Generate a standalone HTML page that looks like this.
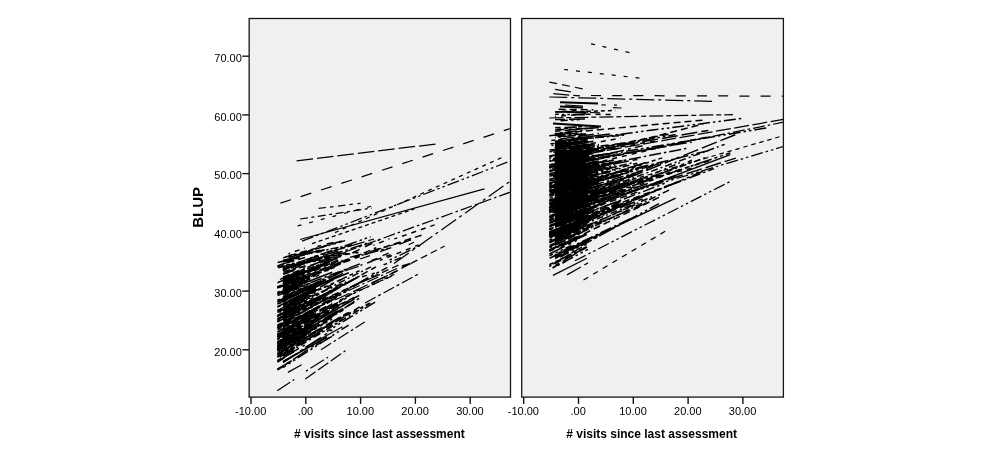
<!DOCTYPE html>
<html><head><meta charset="utf-8"><title>BLUP</title>
<style>html,body{margin:0;padding:0;background:#fff}svg{display:block;filter:grayscale(1)}text{font-family:"Liberation Sans",sans-serif;fill:#000}</style></head><body>
<svg width="1000" height="451" viewBox="0 0 1000 451">
<rect x="0" y="0" width="1000" height="451" fill="#fff"/>
<rect x="249.15" y="18.5" width="261.35" height="378.6" fill="#f0f0f0"/>
<rect x="521.7" y="18.5" width="261.70" height="378.6" fill="#f0f0f0"/>
<defs><clipPath id="cl"><rect x="249.15" y="18.5" width="261.4" height="378.6"/></clipPath><clipPath id="cr"><rect x="521.7" y="18.5" width="261.7" height="378.6"/></clipPath></defs>
<g clip-path="url(#cl)" stroke="#000" stroke-width="1.25" fill="none" stroke-linecap="butt">
<path d="M283.0 296.6L294.0 292.1" stroke-dasharray="7 4" stroke-dashoffset="2.6" stroke-width="1.5"/>
<path d="M282.9 274.1L293.8 270.5" stroke-dasharray="16 4" stroke-dashoffset="1.5" stroke-width="1.5"/>
<path d="M283.2 287.2L338.0 261.6" stroke-dasharray="7 4" stroke-dashoffset="3.5" stroke-width="1.5"/>
<path d="M277.4 282.7L304.8 271.4" stroke-dasharray="16 4" stroke-dashoffset="6.9" stroke-width="1.5"/>
<path d="M277.6 286.6L294.0 278.9" stroke-dasharray="5 5" stroke-dashoffset="3.8" stroke-width="1.5"/>
<path d="M282.9 319.6L332.2 292.0" stroke-dasharray="4 3" stroke-dashoffset="1.0" stroke-width="1.5"/>
<path d="M282.9 294.0L299.4 285.5" stroke-dasharray="7 4" stroke-dashoffset="9.1" stroke-width="1.5"/>
<path d="M282.8 281.4L304.7 273.2" stroke-dasharray="16 4" stroke-dashoffset="9.5" stroke-width="1.5"/>
<path d="M277.4 343.7L288.4 336.5" stroke-dasharray="12 3 2.5 3" stroke-dashoffset="5.7" stroke-width="1.5"/>
<path d="M277.6 329.7L332.4 299.6" stroke-dasharray="7 3 2 3" stroke-dashoffset="3.4" stroke-width="1.5"/>
<path d="M282.8 301.8L293.7 296.2" stroke-dasharray="5 5" stroke-dashoffset="3.4" stroke-width="1.5"/>
<path d="M277.7 336.3L288.6 330.2" stroke-dasharray="18 4 3 4" stroke-dashoffset="6.6" stroke-width="1.5"/>
<path d="M288.6 343.0L316.0 326.8" stroke-dasharray="4 3" stroke-dashoffset="1.8" stroke-width="1.5"/>
<path d="M282.9 283.6L299.3 277.7" stroke-dasharray="12 3 2.5 3" stroke-dashoffset="3.4" stroke-width="1.5"/>
<path d="M283.0 280.6L332.3 260.8" stroke-dasharray="16 3 3 3 3 3" stroke-dashoffset="8.1" stroke-width="1.5"/>
<path d="M299.4 263.6L315.8 258.7" stroke-dasharray="18 4 3 4" stroke-dashoffset="0.7" stroke-width="1.5"/>
<path d="M282.8 270.7L293.8 267.0" stroke-dasharray="16 4" stroke-dashoffset="11.4" stroke-width="1.5"/>
<path d="M277.4 325.2L299.3 313.6" stroke-dasharray="12 3 2.5 3 2.5 3" stroke-dashoffset="7.2" stroke-width="1.5"/>
<path d="M277.5 312.5L288.5 307.5" stroke-dasharray="8 6" stroke-dashoffset="4.1" stroke-width="1.5"/>
<path d="M288.3 288.7L310.2 278.9" stroke-dasharray="7 4" stroke-dashoffset="4.3" stroke-width="1.5"/>
<path d="M299.6 320.8L316.1 312.4" stroke-dasharray="7 4" stroke-dashoffset="4.3" stroke-width="1.5"/>
<path d="M283.0 287.1L299.4 279.3" stroke-dasharray="5 5" stroke-dashoffset="11.8" stroke-width="1.5"/>
<path d="M288.6 340.3L305.0 330.8" stroke-dashoffset="11.9" stroke-width="1.5"/>
<path d="M282.9 337.9L321.2 314.8" stroke-dasharray="5 5" stroke-dashoffset="11.2" stroke-width="1.5"/>
<path d="M315.7 345.5L332.1 336.3" stroke-dasharray="16 4" stroke-dashoffset="10.1" stroke-width="1.5"/>
<path d="M283.1 310.3L305.0 299.8" stroke-dasharray="18 4 3 4" stroke-dashoffset="9.4" stroke-width="1.5"/>
<path d="M282.9 334.5L337.7 304.2" stroke-dasharray="18 4 3 4" stroke-dashoffset="5.6" stroke-width="1.5"/>
<path d="M277.4 336.9L332.2 304.0" stroke-dasharray="16 4" stroke-dashoffset="10.9" stroke-width="1.5"/>
<path d="M277.6 342.5L294.1 334.2" stroke-dasharray="7 4" stroke-dashoffset="0.3" stroke-width="1.5"/>
<path d="M282.8 338.8L315.7 319.8" stroke-dasharray="4 3" stroke-dashoffset="9.9" stroke-width="1.5"/>
<path d="M282.9 286.5L299.3 279.6" stroke-dasharray="7 4" stroke-dashoffset="0.7" stroke-width="1.5"/>
<path d="M299.6 325.5L359.8 295.2" stroke-dasharray="7 4" stroke-dashoffset="6.3" stroke-width="1.5"/>
<path d="M282.9 261.1L299.3 258.1" stroke-dasharray="8 6" stroke-dashoffset="1.4" stroke-width="1.5"/>
<path d="M283.0 269.7L304.9 262.6" stroke-dasharray="7 4" stroke-dashoffset="0.7" stroke-width="1.5"/>
<path d="M277.3 287.0L304.7 275.4" stroke-dasharray="12 3 2.5 3 2.5 3" stroke-dashoffset="7.4" stroke-width="1.5"/>
<path d="M283.1 312.5L299.5 304.1" stroke-dasharray="7 3 2 3" stroke-dashoffset="6.1" stroke-width="1.5"/>
<path d="M283.1 290.1L310.5 280.7" stroke-dasharray="7 3 2 3" stroke-dashoffset="1.6" stroke-width="1.5"/>
<path d="M282.8 278.4L293.8 273.7" stroke-dasharray="16 3 3 3 3 3" stroke-dashoffset="3.6" stroke-width="1.5"/>
<path d="M288.6 276.1L299.6 271.7" stroke-dasharray="7 3 2 3" stroke-dashoffset="2.6" stroke-width="1.5"/>
<path d="M277.5 358.4L359.7 306.8" stroke-dasharray="7 4" stroke-dashoffset="8.5" stroke-width="1.5"/>
<path d="M277.5 369.5L293.9 359.3" stroke-dasharray="7 3 2 3" stroke-dashoffset="5.3" stroke-width="1.5"/>
<path d="M283.0 260.5L294.0 257.8" stroke-dasharray="5 5" stroke-dashoffset="2.7" stroke-width="1.5"/>
<path d="M277.4 349.0L326.7 321.4" stroke-dasharray="16 3 3 3 3 3" stroke-dashoffset="9.8" stroke-width="1.5"/>
<path d="M283.1 290.4L305.1 280.4" stroke-dasharray="16 4" stroke-dashoffset="3.3" stroke-width="1.5"/>
<path d="M277.7 341.9L288.6 335.6" stroke-dasharray="16 4" stroke-dashoffset="10.3" stroke-width="1.5"/>
<path d="M299.2 265.3L370.5 242.2" stroke-dasharray="12 3 2.5 3" stroke-dashoffset="7.5" stroke-width="1.5"/>
<path d="M283.2 266.6L305.1 260.7" stroke-dasharray="16 3 3 3 3 3" stroke-dashoffset="3.7" stroke-width="1.5"/>
<path d="M277.5 338.3L293.9 328.9" stroke-dashoffset="11.9" stroke-width="1.5"/>
<path d="M277.5 267.0L293.9 263.0" stroke-dasharray="16 3 3 3 3 3" stroke-dashoffset="9.8" stroke-width="1.5"/>
<path d="M283.1 305.9L299.6 297.6" stroke-dasharray="8 6" stroke-dashoffset="2.6" stroke-width="1.5"/>
<path d="M283.1 288.0L376.3 247.7" stroke-dasharray="7 4" stroke-dashoffset="0.2" stroke-width="1.5"/>
<path d="M299.3 313.9L326.7 298.3" stroke-dasharray="7 4" stroke-dashoffset="8.0" stroke-width="1.5"/>
<path d="M282.9 292.6L293.9 287.4" stroke-dasharray="12 3 2.5 3 2.5 3" stroke-dashoffset="11.7" stroke-width="1.5"/>
<path d="M277.7 319.0L294.1 310.5" stroke-dashoffset="4.0" stroke-width="1.5"/>
<path d="M283.0 273.6L305.0 265.9" stroke-dasharray="7 4" stroke-dashoffset="4.8" stroke-width="1.5"/>
<path d="M277.4 267.9L293.9 264.2" stroke-dasharray="7 4" stroke-dashoffset="10.2" stroke-width="1.5"/>
<path d="M299.5 274.7L316.0 268.0" stroke-dasharray="7 4" stroke-dashoffset="0.5" stroke-width="1.5"/>
<path d="M299.5 331.4L332.4 310.7" stroke-dasharray="7 4" stroke-dashoffset="9.0" stroke-width="1.5"/>
<path d="M288.3 315.0L343.1 284.2" stroke-dasharray="16 3 3 3 3 3" stroke-dashoffset="2.8" stroke-width="1.5"/>
<path d="M277.4 266.0L299.4 258.0" stroke-dasharray="7 4" stroke-dashoffset="0.6" stroke-width="1.5"/>
<path d="M282.9 260.6L304.8 254.8" stroke-dasharray="7 4" stroke-dashoffset="1.1" stroke-width="1.5"/>
<path d="M283.0 314.6L332.3 291.4" stroke-dasharray="4 3" stroke-dashoffset="8.8" stroke-width="1.5"/>
<path d="M283.2 285.6L305.1 275.4" stroke-dasharray="5 5" stroke-dashoffset="0.6" stroke-width="1.5"/>
<path d="M277.5 326.8L299.5 315.0" stroke-dasharray="8 6" stroke-dashoffset="3.7" stroke-width="1.5"/>
<path d="M277.3 321.1L321.2 297.5" stroke-dasharray="12 3 2.5 3" stroke-dashoffset="8.5" stroke-width="1.5"/>
<path d="M283.1 293.3L359.8 263.9" stroke-dasharray="12 3 2.5 3" stroke-dashoffset="11.7" stroke-width="1.5"/>
<path d="M277.5 356.0L288.4 350.0" stroke-dasharray="4 3" stroke-dashoffset="11.0" stroke-width="1.5"/>
<path d="M277.3 355.2L310.2 332.3" stroke-dasharray="12 3 2.5 3 2.5 3" stroke-dashoffset="1.6" stroke-width="1.5"/>
<path d="M283.1 340.5L354.4 299.0" stroke-dashoffset="1.9" stroke-width="1.5"/>
<path d="M282.9 354.6L321.3 330.7" stroke-dasharray="18 4 3 4" stroke-dashoffset="3.8" stroke-width="1.5"/>
<path d="M277.6 345.6L354.3 302.3" stroke-dasharray="8 6" stroke-dashoffset="3.5" stroke-width="1.5"/>
<path d="M283.2 300.5L321.5 281.3" stroke-dasharray="18 4 3 4" stroke-dashoffset="9.1" stroke-width="1.5"/>
<path d="M277.3 347.0L304.7 330.2" stroke-dasharray="18 4 3 4" stroke-dashoffset="6.1" stroke-width="1.5"/>
<path d="M283.2 284.1L327.0 263.7" stroke-dasharray="16 3 3 3 3 3" stroke-dashoffset="4.8" stroke-width="1.5"/>
<path d="M282.9 346.2L304.8 335.5" stroke-dasharray="7 4" stroke-dashoffset="7.7" stroke-width="1.5"/>
<path d="M277.7 295.5L294.1 288.9" stroke-dasharray="12 3 2.5 3 2.5 3" stroke-dashoffset="3.4" stroke-width="1.5"/>
<path d="M283.0 290.2L305.0 279.9" stroke-dasharray="16 4" stroke-dashoffset="2.0" stroke-width="1.5"/>
<path d="M283.1 282.1L294.1 277.9" stroke-dasharray="12 3 2.5 3 2.5 3" stroke-dashoffset="12.0" stroke-width="1.5"/>
<path d="M277.4 310.4L288.3 305.3" stroke-dasharray="12 3 2.5 3" stroke-dashoffset="9.7" stroke-width="1.5"/>
<path d="M277.6 287.9L299.6 279.2" stroke-dasharray="4 3" stroke-dashoffset="4.5" stroke-width="1.5"/>
<path d="M277.4 300.3L299.3 290.5" stroke-dasharray="4 3" stroke-dashoffset="1.1" stroke-width="1.5"/>
<path d="M277.6 350.7L294.0 341.0" stroke-dashoffset="1.5" stroke-width="1.5"/>
<path d="M288.6 303.2L316.0 291.0" stroke-dasharray="7 4" stroke-dashoffset="10.3" stroke-width="1.5"/>
<path d="M277.3 361.5L293.8 351.5" stroke-dasharray="16 3 3 3 3 3" stroke-dashoffset="1.3" stroke-width="1.5"/>
<path d="M283.1 341.1L310.5 325.8" stroke-dasharray="7 4" stroke-dashoffset="2.8" stroke-width="1.5"/>
<path d="M282.9 350.2L293.9 343.7" stroke-dasharray="16 3 3 3 3 3" stroke-dashoffset="5.2" stroke-width="1.5"/>
<path d="M277.4 338.8L299.3 327.0" stroke-dashoffset="0.1" stroke-width="1.5"/>
<path d="M283.2 294.3L305.1 284.0" stroke-dasharray="7 3 2 3" stroke-dashoffset="6.3" stroke-width="1.5"/>
<path d="M277.5 319.1L304.9 304.5" stroke-dasharray="16 3 3 3 3 3" stroke-dashoffset="5.0" stroke-width="1.5"/>
<path d="M283.2 290.3L294.1 285.4" stroke-dasharray="12 3 2.5 3 2.5 3" stroke-dashoffset="8.6" stroke-width="1.5"/>
<path d="M282.8 299.8L299.2 291.6" stroke-dasharray="4 3" stroke-dashoffset="3.7" stroke-width="1.5"/>
<path d="M277.4 343.9L315.7 325.1" stroke-dasharray="16 4" stroke-dashoffset="5.9" stroke-width="1.5"/>
<path d="M282.9 284.0L299.4 276.3" stroke-dasharray="4 3" stroke-dashoffset="0.3" stroke-width="1.5"/>
<path d="M283.1 320.0L299.5 309.6" stroke-dasharray="8 6" stroke-dashoffset="10.6" stroke-width="1.5"/>
<path d="M310.3 318.9L337.7 304.6" stroke-dasharray="16 3 3 3 3 3" stroke-dashoffset="8.7" stroke-width="1.5"/>
<path d="M321.2 324.6L332.2 319.3" stroke-dasharray="12 3 2.5 3 2.5 3" stroke-dashoffset="5.0" stroke-width="1.5"/>
<path d="M283.1 346.1L305.0 332.1" stroke-dasharray="16 4" stroke-dashoffset="0.6" stroke-width="1.5"/>
<path d="M283.1 309.9L299.6 302.4" stroke-dasharray="7 3 2 3" stroke-dashoffset="0.4" stroke-width="1.5"/>
<path d="M288.6 301.5L316.0 288.4" stroke-dasharray="12 3 2.5 3" stroke-dashoffset="2.3" stroke-width="1.5"/>
<path d="M282.9 269.9L304.8 262.8" stroke-dashoffset="3.1" stroke-width="1.5"/>
<path d="M277.4 334.5L354.1 297.5" stroke-dasharray="16 4" stroke-dashoffset="0.3" stroke-width="1.5"/>
<path d="M283.2 288.4L348.9 260.2" stroke-dasharray="12 3 2.5 3" stroke-dashoffset="11.0" stroke-width="1.5"/>
<path d="M277.5 343.3L299.4 333.1" stroke-dasharray="7 4" stroke-dashoffset="7.3" stroke-width="1.5"/>
<path d="M282.9 296.8L310.3 284.2" stroke-dasharray="4 3" stroke-dashoffset="4.7" stroke-width="1.5"/>
<path d="M283.0 281.6L299.5 274.1" stroke-dasharray="16 4" stroke-dashoffset="11.9" stroke-width="1.5"/>
<path d="M277.3 293.7L299.3 284.1" stroke-dasharray="7 3 2 3" stroke-dashoffset="2.1" stroke-width="1.5"/>
<path d="M283.1 279.5L327.0 262.8" stroke-dasharray="5 5" stroke-dashoffset="10.1" stroke-width="1.5"/>
<path d="M282.9 294.1L310.3 283.2" stroke-dasharray="4 3" stroke-dashoffset="2.2" stroke-width="1.5"/>
<path d="M283.1 288.5L294.1 283.9" stroke-dasharray="7 4" stroke-dashoffset="2.8" stroke-width="1.5"/>
<path d="M283.2 339.6L299.6 330.4" stroke-dasharray="4 3" stroke-dashoffset="10.1" stroke-width="1.5"/>
<path d="M277.4 352.7L348.7 312.4" stroke-dasharray="16 4" stroke-dashoffset="4.5" stroke-width="1.5"/>
<path d="M277.4 348.0L332.2 317.3" stroke-dasharray="16 4" stroke-dashoffset="7.6" stroke-width="1.5"/>
<path d="M277.3 333.9L332.1 303.0" stroke-dasharray="8 6" stroke-dashoffset="7.8" stroke-width="1.5"/>
<path d="M277.4 288.1L288.4 283.6" stroke-dasharray="12 3 2.5 3" stroke-dashoffset="0.9" stroke-width="1.5"/>
<path d="M283.0 264.1L293.9 260.2" stroke-dasharray="7 4" stroke-dashoffset="1.1" stroke-width="1.5"/>
<path d="M282.9 282.5L293.9 278.6" stroke-dashoffset="3.7" stroke-width="1.5"/>
<path d="M282.9 318.5L293.9 313.8" stroke-dasharray="8 6" stroke-dashoffset="4.9" stroke-width="1.5"/>
<path d="M277.4 356.9L288.3 349.1" stroke-dasharray="16 4" stroke-dashoffset="10.6" stroke-width="1.5"/>
<path d="M277.3 311.4L337.6 277.3" stroke-dasharray="16 4" stroke-dashoffset="11.1" stroke-width="1.5"/>
<path d="M277.4 336.3L288.4 330.0" stroke-dasharray="16 4" stroke-dashoffset="1.3" stroke-width="1.5"/>
<path d="M288.6 308.4L370.8 266.9" stroke-dasharray="7 3 2 3" stroke-dashoffset="3.8" stroke-width="1.5"/>
<path d="M282.8 321.8L332.1 296.4" stroke-dasharray="7 4" stroke-dashoffset="7.7" stroke-width="1.5"/>
<path d="M283.0 344.0L310.4 328.6" stroke-dasharray="7 4" stroke-dashoffset="1.9" stroke-width="1.5"/>
<path d="M277.7 302.0L310.6 288.0" stroke-dasharray="7 4" stroke-dashoffset="10.1" stroke-width="1.5"/>
<path d="M282.9 327.2L332.2 298.2" stroke-dasharray="16 3 3 3 3 3" stroke-dashoffset="5.0" stroke-width="1.5"/>
<path d="M283.0 319.5L299.5 311.3" stroke-dashoffset="0.0" stroke-width="1.5"/>
<path d="M283.0 362.5L332.3 329.9" stroke-dasharray="18 4 3 4" stroke-dashoffset="1.3" stroke-width="1.5"/>
<path d="M282.8 278.9L299.3 271.7" stroke-dashoffset="0.5" stroke-width="1.5"/>
<path d="M316.0 266.0L332.4 259.4" stroke-dasharray="5 5" stroke-dashoffset="1.6" stroke-width="1.5"/>
<path d="M332.4 315.3L343.3 309.0" stroke-dasharray="7 3 2 3" stroke-dashoffset="3.5" stroke-width="1.5"/>
<path d="M288.5 336.6L332.4 311.2" stroke-dasharray="12 3 2.5 3" stroke-dashoffset="1.9" stroke-width="1.5"/>
<path d="M277.6 350.6L294.1 340.5" stroke-dasharray="7 3 2 3" stroke-dashoffset="2.5" stroke-width="1.5"/>
<path d="M282.9 291.2L304.8 282.1" stroke-dasharray="16 3 3 3 3 3" stroke-dashoffset="3.9" stroke-width="1.5"/>
<path d="M288.4 298.6L315.8 285.6" stroke-dasharray="12 3 2.5 3 2.5 3" stroke-dashoffset="11.6" stroke-width="1.5"/>
<path d="M283.1 308.0L310.5 294.9" stroke-dasharray="8 6" stroke-dashoffset="9.6" stroke-width="1.5"/>
<path d="M326.7 270.8L337.6 265.7" stroke-dasharray="4 3" stroke-dashoffset="2.1" stroke-width="1.5"/>
<path d="M277.6 336.8L348.9 296.6" stroke-dasharray="16 3 3 3 3 3" stroke-dashoffset="10.7" stroke-width="1.5"/>
<path d="M282.9 333.3L304.8 322.4" stroke-dasharray="18 4 3 4" stroke-dashoffset="6.2" stroke-width="1.5"/>
<path d="M277.4 350.7L293.8 341.0" stroke-dasharray="16 4" stroke-dashoffset="6.3" stroke-width="1.5"/>
<path d="M282.9 315.1L299.3 306.3" stroke-dasharray="7 3 2 3" stroke-dashoffset="1.9" stroke-width="1.5"/>
<path d="M288.5 257.6L310.5 251.8" stroke-dasharray="12 3 2.5 3" stroke-dashoffset="4.8" stroke-width="1.5"/>
<path d="M277.6 293.5L294.0 286.3" stroke-dasharray="16 3 3 3 3 3" stroke-dashoffset="6.9" stroke-width="1.5"/>
<path d="M283.0 321.1L293.9 315.2" stroke-dasharray="7 4" stroke-dashoffset="2.9" stroke-width="1.5"/>
<path d="M288.3 267.4L310.2 260.4" stroke-dasharray="7 4" stroke-dashoffset="5.0" stroke-width="1.5"/>
<path d="M283.0 313.3L294.0 307.0" stroke-dasharray="16 3 3 3 3 3" stroke-dashoffset="0.6" stroke-width="1.5"/>
<path d="M288.5 344.0L315.9 328.9" stroke-dasharray="8 6" stroke-dashoffset="10.9" stroke-width="1.5"/>
<path d="M282.9 273.2L293.8 269.8" stroke-dasharray="8 6" stroke-dashoffset="11.1" stroke-width="1.5"/>
<path d="M277.3 357.0L321.2 331.1" stroke-dasharray="16 3 3 3 3 3" stroke-dashoffset="9.5" stroke-width="1.5"/>
<path d="M277.6 316.9L332.4 290.1" stroke-dasharray="12 3 2.5 3" stroke-dashoffset="10.9" stroke-width="1.5"/>
<path d="M277.4 345.8L337.6 310.7" stroke-dasharray="18 4 3 4" stroke-dashoffset="3.9" stroke-width="1.5"/>
<path d="M299.4 281.7L321.3 272.1" stroke-dasharray="4 3" stroke-dashoffset="6.8" stroke-width="1.5"/>
<path d="M283.0 294.9L304.9 284.9" stroke-dasharray="7 4" stroke-dashoffset="0.4" stroke-width="1.5"/>
<path d="M282.8 278.1L293.8 274.8" stroke-dasharray="16 3 3 3 3 3" stroke-dashoffset="7.6" stroke-width="1.5"/>
<path d="M282.8 329.7L321.2 308.0" stroke-dasharray="7 4" stroke-dashoffset="10.7" stroke-width="1.5"/>
<path d="M299.3 265.2L321.2 258.0" stroke-dasharray="5 5" stroke-dashoffset="9.0" stroke-width="1.5"/>
<path d="M283.0 274.3L294.0 270.6" stroke-dasharray="5 5" stroke-dashoffset="9.1" stroke-width="1.5"/>
<path d="M282.9 286.1L304.9 277.7" stroke-dasharray="12 3 2.5 3 2.5 3" stroke-dashoffset="10.9" stroke-width="1.5"/>
<path d="M283.0 336.1L304.9 323.8" stroke-dasharray="5 5" stroke-dashoffset="5.0" stroke-width="1.5"/>
<path d="M288.4 303.5L315.8 289.4" stroke-dasharray="16 4" stroke-dashoffset="6.9" stroke-width="1.5"/>
<path d="M283.0 292.8L304.9 281.8" stroke-dashoffset="0.1" stroke-width="1.5"/>
<path d="M283.1 311.3L305.0 300.5" stroke-dasharray="12 3 2.5 3" stroke-dashoffset="6.9" stroke-width="1.5"/>
<path d="M288.6 280.1L299.6 276.3" stroke-dasharray="16 3 3 3 3 3" stroke-dashoffset="9.2" stroke-width="1.5"/>
<path d="M326.9 287.2L343.4 278.3" stroke-dasharray="8 6" stroke-dashoffset="1.0" stroke-width="1.5"/>
<path d="M277.4 350.1L304.8 333.3" stroke-dasharray="7 4" stroke-dashoffset="2.1" stroke-width="1.5"/>
<path d="M283.2 361.5L327.0 337.0" stroke-dashoffset="4.2" stroke-width="1.5"/>
<path d="M283.1 296.8L305.0 287.6" stroke-dasharray="7 4" stroke-dashoffset="5.6" stroke-width="1.5"/>
<path d="M277.4 332.0L321.2 306.3" stroke-dasharray="12 3 2.5 3" stroke-dashoffset="3.6" stroke-width="1.5"/>
<path d="M288.3 327.8L299.3 322.3" stroke-dasharray="12 3 2.5 3 2.5 3" stroke-dashoffset="7.2" stroke-width="1.5"/>
<path d="M277.7 301.1L338.0 272.3" stroke-dasharray="16 3 3 3 3 3" stroke-dashoffset="1.2" stroke-width="1.5"/>
<path d="M316.0 290.1L326.9 286.1" stroke-dasharray="16 3 3 3 3 3" stroke-dashoffset="10.9" stroke-width="1.5"/>
<path d="M299.2 283.9L315.7 275.5" stroke-dasharray="16 3 3 3 3 3" stroke-dashoffset="3.6" stroke-width="1.5"/>
<path d="M283.1 261.9L294.0 259.5" stroke-dasharray="18 4 3 4" stroke-dashoffset="8.4" stroke-width="1.5"/>
<path d="M283.1 319.6L359.8 276.1" stroke-dasharray="16 4" stroke-dashoffset="10.2" stroke-width="1.5"/>
<path d="M283.0 327.8L304.9 314.4" stroke-dasharray="16 4" stroke-dashoffset="10.7" stroke-width="1.5"/>
<path d="M283.1 289.4L294.0 285.2" stroke-dasharray="18 4 3 4" stroke-dashoffset="6.2" stroke-width="1.5"/>
<path d="M299.5 319.0L316.0 311.1" stroke-dasharray="16 4" stroke-dashoffset="0.5" stroke-width="1.5"/>
<path d="M277.6 318.7L299.5 308.3" stroke-dasharray="7 4" stroke-dashoffset="2.5" stroke-width="1.5"/>
<path d="M277.6 312.6L294.1 303.9" stroke-dasharray="8 6" stroke-dashoffset="11.4" stroke-width="1.5"/>
<path d="M282.9 286.4L348.7 258.8" stroke-dashoffset="3.0" stroke-width="1.5"/>
<path d="M277.3 304.2L348.6 268.3" stroke-dasharray="16 3 3 3 3 3" stroke-dashoffset="4.2" stroke-width="1.5"/>
<path d="M283.1 291.4L305.0 282.9" stroke-dasharray="18 4 3 4" stroke-dashoffset="5.5" stroke-width="1.5"/>
<path d="M305.0 272.9L321.5 266.0" stroke-dasharray="7 4" stroke-dashoffset="8.6" stroke-width="1.5"/>
<path d="M277.6 343.3L305.0 328.6" stroke-dasharray="5 5" stroke-dashoffset="6.6" stroke-width="1.5"/>
<path d="M288.4 276.0L321.3 261.1" stroke-dasharray="18 4 3 4" stroke-dashoffset="8.2" stroke-width="1.5"/>
<path d="M283.0 361.7L304.9 349.2" stroke-dasharray="12 3 2.5 3 2.5 3" stroke-dashoffset="5.8" stroke-width="1.5"/>
<path d="M283.0 305.2L310.4 289.5" stroke-dasharray="18 4 3 4" stroke-dashoffset="0.7" stroke-width="1.5"/>
<path d="M294.0 334.5L326.8 314.5" stroke-dasharray="16 4" stroke-dashoffset="7.9" stroke-width="1.5"/>
<path d="M277.4 292.3L299.3 283.8" stroke-dasharray="12 3 2.5 3 2.5 3" stroke-dashoffset="9.4" stroke-width="1.5"/>
<path d="M283.0 285.9L337.8 260.0" stroke-dasharray="7 4" stroke-dashoffset="9.5" stroke-width="1.5"/>
<path d="M277.6 345.4L299.5 331.8" stroke-dasharray="7 3 2 3" stroke-dashoffset="8.1" stroke-width="1.5"/>
<path d="M277.5 280.2L293.9 274.4" stroke-dasharray="7 4" stroke-dashoffset="8.4" stroke-width="1.5"/>
<path d="M283.0 289.3L310.4 276.1" stroke-dasharray="12 3 2.5 3 2.5 3" stroke-dashoffset="5.6" stroke-width="1.5"/>
<path d="M283.1 317.3L337.9 286.5" stroke-dasharray="16 3 3 3 3 3" stroke-dashoffset="4.3" stroke-width="1.5"/>
<path d="M277.3 328.2L332.1 300.1" stroke-dasharray="5 5" stroke-dashoffset="11.8" stroke-width="1.5"/>
<path d="M283.1 313.3L321.5 296.2" stroke-dasharray="16 3 3 3 3 3" stroke-dashoffset="4.4" stroke-width="1.5"/>
<path d="M283.1 309.8L299.5 301.7" stroke-dasharray="18 4 3 4" stroke-dashoffset="3.0" stroke-width="1.5"/>
<path d="M282.9 267.9L370.6 236.7" stroke-dasharray="12 3 2.5 3 2.5 3" stroke-dashoffset="11.7" stroke-width="1.5"/>
<path d="M288.4 322.9L304.8 313.9" stroke-dasharray="16 4" stroke-dashoffset="11.7" stroke-width="1.5"/>
<path d="M321.4 262.4L332.4 259.0" stroke-dashoffset="0.6" stroke-width="1.5"/>
<path d="M283.1 340.5L299.5 330.5" stroke-dasharray="7 4" stroke-dashoffset="7.3" stroke-width="1.5"/>
<path d="M283.1 322.1L305.0 309.0" stroke-dasharray="7 3 2 3" stroke-dashoffset="7.5" stroke-width="1.5"/>
<path d="M283.1 282.9L294.1 278.0" stroke-dasharray="16 3 3 3 3 3" stroke-dashoffset="0.2" stroke-width="1.5"/>
<path d="M277.4 348.5L288.4 341.9" stroke-dashoffset="5.2" stroke-width="1.5"/>
<path d="M304.9 310.3L326.8 296.5" stroke-dasharray="5 5" stroke-dashoffset="9.7" stroke-width="1.5"/>
<path d="M299.2 309.5L376.0 266.8" stroke-dasharray="7 4" stroke-dashoffset="5.7" stroke-width="1.5"/>
<path d="M277.6 306.9L288.5 300.9" stroke-dashoffset="5.1" stroke-width="1.5"/>
<path d="M283.2 257.8L299.6 254.2" stroke-dasharray="12 3 2.5 3" stroke-dashoffset="8.6" stroke-width="1.5"/>
<path d="M282.9 289.1L304.8 279.0" stroke-dasharray="8 6" stroke-dashoffset="8.3" stroke-width="1.5"/>
<path d="M282.9 280.3L304.8 270.7" stroke-dashoffset="8.6" stroke-width="1.5"/>
<path d="M294.0 255.4L310.5 251.1" stroke-dasharray="12 3 2.5 3" stroke-dashoffset="8.8" stroke-width="1.5"/>
<path d="M299.5 274.8L337.8 257.7" stroke-dasharray="7 4" stroke-dashoffset="1.7" stroke-width="1.5"/>
<path d="M277.6 341.7L315.9 323.7" stroke-dasharray="18 4 3 4" stroke-dashoffset="9.3" stroke-width="1.5"/>
<path d="M277.6 310.5L321.4 287.7" stroke-dasharray="5 5" stroke-dashoffset="9.9" stroke-width="1.5"/>
<path d="M283.2 297.2L321.5 280.5" stroke-dasharray="12 3 2.5 3" stroke-dashoffset="7.0" stroke-width="1.5"/>
<path d="M277.5 362.2L293.9 351.5" stroke-dasharray="8 6" stroke-dashoffset="0.0" stroke-width="1.5"/>
<path d="M283.0 291.3L332.3 272.2" stroke-dashoffset="3.5" stroke-width="1.5"/>
<path d="M293.8 276.8L315.8 269.3" stroke-dasharray="12 3 2.5 3 2.5 3" stroke-dashoffset="6.4" stroke-width="1.5"/>
<path d="M282.9 315.2L332.3 286.2" stroke-dasharray="4 3" stroke-dashoffset="3.7" stroke-width="1.5"/>
<path d="M283.1 269.3L299.5 264.9" stroke-dasharray="7 4" stroke-dashoffset="1.1" stroke-width="1.5"/>
<path d="M288.4 336.1L343.2 303.3" stroke-dasharray="7 4" stroke-dashoffset="3.9" stroke-width="1.5"/>
<path d="M277.4 315.5L299.3 305.7" stroke-dasharray="12 3 2.5 3 2.5 3" stroke-dashoffset="4.8" stroke-width="1.5"/>
<path d="M277.3 316.5L343.1 285.3" stroke-dasharray="16 4" stroke-dashoffset="4.5" stroke-width="1.5"/>
<path d="M277.4 311.6L310.3 296.2" stroke-dasharray="4 3" stroke-dashoffset="11.9" stroke-width="1.5"/>
<path d="M283.0 344.8L304.9 332.2" stroke-dasharray="18 4 3 4" stroke-dashoffset="1.2" stroke-width="1.5"/>
<path d="M283.0 307.6L310.4 295.5" stroke-dasharray="18 4 3 4" stroke-dashoffset="1.0" stroke-width="1.5"/>
<path d="M283.1 268.2L305.0 262.7" stroke-dasharray="16 4" stroke-dashoffset="10.4" stroke-width="1.5"/>
<path d="M332.5 297.4L387.3 267.4" stroke-dasharray="16 3 3 3 3 3" stroke-dashoffset="6.1" stroke-width="1.5"/>
<path d="M288.4 282.3L310.3 274.6" stroke-dasharray="7 4" stroke-dashoffset="0.5" stroke-width="1.5"/>
<path d="M283.1 290.7L305.1 282.6" stroke-dasharray="8 6" stroke-dashoffset="8.9" stroke-width="1.5"/>
<path d="M282.8 335.2L293.8 328.5" stroke-dasharray="4 3" stroke-dashoffset="8.1" stroke-width="1.5"/>
<path d="M283.1 294.3L294.0 289.7" stroke-dasharray="7 3 2 3" stroke-dashoffset="4.6" stroke-width="1.5"/>
<path d="M288.6 304.3L359.9 270.5" stroke-dasharray="4 3" stroke-dashoffset="9.6" stroke-width="1.5"/>
<path d="M288.3 279.2L332.1 260.4" stroke-dasharray="16 4" stroke-dashoffset="11.1" stroke-width="1.5"/>
<path d="M277.3 304.5L343.1 270.8" stroke-dasharray="4 3" stroke-dashoffset="5.7" stroke-width="1.5"/>
<path d="M277.4 326.5L310.3 310.9" stroke-dasharray="7 4" stroke-dashoffset="3.2" stroke-width="1.5"/>
<path d="M277.4 306.9L315.8 289.0" stroke-dasharray="7 4" stroke-dashoffset="3.1" stroke-width="1.5"/>
<path d="M283.0 277.6L304.9 270.1" stroke-dasharray="4 3" stroke-dashoffset="6.7" stroke-width="1.5"/>
<path d="M277.6 345.1L343.4 310.2" stroke-dasharray="12 3 2.5 3" stroke-dashoffset="12.0" stroke-width="1.5"/>
<path d="M277.4 354.3L315.8 332.2" stroke-dasharray="16 3 3 3 3 3" stroke-dashoffset="0.2" stroke-width="1.5"/>
<path d="M277.4 342.7L299.3 330.0" stroke-dasharray="7 4" stroke-dashoffset="3.4" stroke-width="1.5"/>
<path d="M277.5 302.2L321.3 281.2" stroke-dasharray="4 3" stroke-dashoffset="8.5" stroke-width="1.5"/>
<path d="M277.3 287.5L293.8 281.1" stroke-dasharray="12 3 2.5 3" stroke-dashoffset="2.1" stroke-width="1.5"/>
<path d="M283.0 280.0L305.0 271.7" stroke-dasharray="7 4" stroke-dashoffset="4.9" stroke-width="1.5"/>
<path d="M277.6 334.8L305.0 320.5" stroke-dasharray="7 3 2 3" stroke-dashoffset="1.1" stroke-width="1.5"/>
<path d="M288.3 301.2L343.1 273.4" stroke-dashoffset="2.0" stroke-width="1.5"/>
<path d="M282.8 300.5L299.2 292.2" stroke-dasharray="7 4" stroke-dashoffset="0.9" stroke-width="1.5"/>
<path d="M277.6 301.8L348.9 272.8" stroke-dashoffset="3.5" stroke-width="1.5"/>
<path d="M283.0 277.1L304.9 268.0" stroke-dasharray="7 4" stroke-dashoffset="0.2" stroke-width="1.5"/>
<path d="M277.4 360.7L304.8 345.1" stroke-dasharray="16 4" stroke-dashoffset="11.1" stroke-width="1.5"/>
<path d="M277.6 336.4L316.0 315.6" stroke-dasharray="4 3" stroke-dashoffset="8.4" stroke-width="1.5"/>
<path d="M293.8 273.5L304.7 269.9" stroke-dasharray="16 4" stroke-dashoffset="1.5" stroke-width="1.5"/>
<path d="M282.9 346.7L304.8 334.7" stroke-dasharray="7 3 2 3" stroke-dashoffset="9.0" stroke-width="1.5"/>
<path d="M288.6 279.6L327.0 262.9" stroke-dasharray="18 4 3 4" stroke-dashoffset="11.6" stroke-width="1.5"/>
<path d="M282.9 268.2L326.8 255.7" stroke-dasharray="16 4" stroke-dashoffset="9.7" stroke-width="1.5"/>
<path d="M288.6 346.5L370.8 302.5" stroke-dasharray="4 3" stroke-dashoffset="10.4" stroke-width="1.5"/>
<path d="M277.3 329.7L293.8 321.0" stroke-dasharray="4 3" stroke-dashoffset="6.1" stroke-width="1.5"/>
<path d="M277.7 262.6L299.6 257.2" stroke-dashoffset="0.4" stroke-width="1.5"/>
<path d="M277.6 327.6L294.0 316.9" stroke-dashoffset="7.5" stroke-width="1.5"/>
<path d="M283.0 290.1L299.4 283.5" stroke-dasharray="16 4" stroke-dashoffset="0.7" stroke-width="1.5"/>
<path d="M315.7 336.2L370.5 303.1" stroke-dasharray="7 3 2 3" stroke-dashoffset="1.5" stroke-width="1.5"/>
<path d="M282.9 279.4L299.4 272.9" stroke-dasharray="7 3 2 3" stroke-dashoffset="7.3" stroke-width="1.5"/>
<path d="M282.9 318.5L321.2 299.4" stroke-dasharray="7 4" stroke-dashoffset="3.6" stroke-width="1.5"/>
<path d="M288.3 307.2L315.7 292.9" stroke-dasharray="18 4 3 4" stroke-dashoffset="0.1" stroke-width="1.5"/>
<path d="M293.9 294.2L304.8 289.3" stroke-dasharray="4 3" stroke-dashoffset="3.5" stroke-width="1.5"/>
<path d="M277.3 339.6L293.8 330.8" stroke-dasharray="7 3 2 3" stroke-dashoffset="4.2" stroke-width="1.5"/>
<path d="M283.2 335.2L338.0 302.3" stroke-dasharray="18 4 3 4" stroke-dashoffset="4.0" stroke-width="1.5"/>
<path d="M283.0 299.2L304.9 289.9" stroke-dasharray="8 6" stroke-dashoffset="11.1" stroke-width="1.5"/>
<path d="M277.6 370.0L326.9 336.8" stroke-dasharray="18 4 3 4" stroke-dashoffset="10.4" stroke-width="1.5"/>
<path d="M288.5 253.6L304.9 248.1" stroke-dasharray="5 5" stroke-dashoffset="3.4" stroke-width="1.5"/>
<path d="M277.6 325.8L316.0 305.1" stroke-dasharray="12 3 2.5 3 2.5 3" stroke-dashoffset="3.5" stroke-width="1.5"/>
<path d="M282.9 302.1L326.8 279.4" stroke-dasharray="7 3 2 3" stroke-dashoffset="3.6" stroke-width="1.5"/>
<path d="M288.4 313.3L299.4 308.3" stroke-dasharray="12 3 2.5 3 2.5 3" stroke-dashoffset="3.9" stroke-width="1.5"/>
<path d="M288.6 339.6L343.4 308.7" stroke-dashoffset="3.1" stroke-width="1.5"/>
<path d="M277.5 350.7L299.4 338.9" stroke-dasharray="18 4 3 4" stroke-dashoffset="6.2" stroke-width="1.5"/>
<path d="M282.9 313.4L310.3 298.1" stroke-dasharray="16 3 3 3 3 3" stroke-dashoffset="0.8" stroke-width="1.5"/>
<path d="M283.0 288.3L304.9 279.9" stroke-dasharray="7 4" stroke-dashoffset="10.6" stroke-width="1.5"/>
<path d="M283.0 356.3L299.4 344.8" stroke-dasharray="16 4" stroke-dashoffset="2.0" stroke-width="1.5"/>
<path d="M315.9 276.6L337.8 264.2" stroke-dasharray="8 6" stroke-dashoffset="4.1" stroke-width="1.5"/>
<path d="M283.2 352.2L316.0 331.6" stroke-dasharray="4 3" stroke-dashoffset="4.9" stroke-width="1.5"/>
<path d="M282.8 269.3L299.3 263.3" stroke-dasharray="8 6" stroke-dashoffset="0.5" stroke-width="1.5"/>
<path d="M288.4 301.5L315.8 288.0" stroke-dasharray="16 4" stroke-dashoffset="0.2" stroke-width="1.5"/>
<path d="M283.1 263.9L305.0 257.5" stroke-dasharray="7 4" stroke-dashoffset="6.2" stroke-width="1.5"/>
<path d="M283.0 280.7L294.0 276.7" stroke-dasharray="16 4" stroke-dashoffset="2.0" stroke-width="1.5"/>
<path d="M288.5 311.6L315.9 298.6" stroke-dashoffset="8.2" stroke-width="1.5"/>
<path d="M277.4 322.0L326.7 295.7" stroke-dasharray="16 4" stroke-dashoffset="0.8" stroke-width="1.5"/>
<path d="M282.8 284.8L299.2 278.2" stroke-dasharray="5 5" stroke-dashoffset="11.5" stroke-width="1.5"/>
<path d="M282.9 307.3L348.6 281.1" stroke-dasharray="7 3 2 3" stroke-dashoffset="3.6" stroke-width="1.5"/>
<path d="M321.5 301.7L343.5 290.6" stroke-dasharray="16 3 3 3 3 3" stroke-dashoffset="8.6" stroke-width="1.5"/>
<path d="M283.1 286.8L294.1 281.3" stroke-dasharray="12 3 2.5 3 2.5 3" stroke-dashoffset="4.5" stroke-width="1.5"/>
<path d="M299.4 253.5L315.9 249.9" stroke-dasharray="18 4 3 4" stroke-dashoffset="4.0" stroke-width="1.5"/>
<path d="M321.5 303.6L332.4 297.4" stroke-dasharray="4 3" stroke-dashoffset="5.2" stroke-width="1.5"/>
<path d="M277.6 294.8L288.6 290.2" stroke-dasharray="4 3" stroke-dashoffset="3.2" stroke-width="1.5"/>
<path d="M277.5 345.2L293.9 336.4" stroke-dasharray="8 6" stroke-dashoffset="4.9" stroke-width="1.5"/>
<path d="M282.9 323.2L293.9 316.5" stroke-dasharray="7 3 2 3" stroke-dashoffset="8.1" stroke-width="1.5"/>
<path d="M327.0 325.7L348.9 312.0" stroke-dasharray="4 3" stroke-dashoffset="1.5" stroke-width="1.5"/>
<path d="M282.8 334.4L359.5 289.4" stroke-dasharray="5 5" stroke-dashoffset="4.6" stroke-width="1.5"/>
<path d="M282.9 326.1L310.3 310.6" stroke-dasharray="12 3 2.5 3 2.5 3" stroke-dashoffset="2.3" stroke-width="1.5"/>
<path d="M277.7 350.2L327.0 322.0" stroke-dasharray="4 3" stroke-dashoffset="0.8" stroke-width="1.5"/>
<path d="M282.8 295.3L304.8 285.1" stroke-dasharray="5 5" stroke-dashoffset="7.5" stroke-width="1.5"/>
<path d="M299.3 313.9L321.2 301.2" stroke-dasharray="8 6" stroke-dashoffset="4.2" stroke-width="1.5"/>
<path d="M283.1 304.2L305.0 293.5" stroke-dasharray="7 4" stroke-dashoffset="3.5" stroke-width="1.5"/>
<path d="M282.9 292.2L299.3 286.3" stroke-dasharray="16 4" stroke-dashoffset="1.9" stroke-width="1.5"/>
<path d="M282.9 285.5L293.9 281.4" stroke-dasharray="4 3" stroke-dashoffset="6.8" stroke-width="1.5"/>
<path d="M277.5 334.5L315.8 313.4" stroke-dashoffset="1.3" stroke-width="1.5"/>
<path d="M283.1 335.8L337.9 307.1" stroke-dasharray="16 3 3 3 3 3" stroke-dashoffset="1.3" stroke-width="1.5"/>
<path d="M277.7 341.1L310.5 321.0" stroke-dasharray="8 6" stroke-dashoffset="8.9" stroke-width="1.5"/>
<path d="M282.9 367.6L348.6 325.1" stroke-dasharray="12 3 2.5 3 2.5 3" stroke-dashoffset="8.3" stroke-width="1.5"/>
<path d="M288.5 330.2L299.5 323.9" stroke-dasharray="8 6" stroke-dashoffset="2.5" stroke-width="1.5"/>
<path d="M288.6 324.1L370.8 276.4" stroke-dasharray="7 4" stroke-dashoffset="3.1" stroke-width="1.5"/>
<path d="M332.2 290.4L359.6 276.1" stroke-dasharray="7 4" stroke-dashoffset="4.3" stroke-width="1.5"/>
<path d="M277.4 306.9L310.3 292.3" stroke-dasharray="4 3" stroke-dashoffset="0.1" stroke-width="1.5"/>
<path d="M277.6 332.2L310.4 315.7" stroke-dasharray="8 6" stroke-dashoffset="1.7" stroke-width="1.5"/>
<path d="M283.1 317.2L305.0 304.0" stroke-dasharray="16 4" stroke-dashoffset="11.8" stroke-width="1.5"/>
<path d="M277.4 345.6L304.8 329.2" stroke-dasharray="7 3 2 3" stroke-dashoffset="2.5" stroke-width="1.5"/>
<path d="M282.9 269.4L293.8 265.7" stroke-dasharray="7 3 2 3" stroke-dashoffset="6.8" stroke-width="1.5"/>
<path d="M282.8 293.2L304.7 282.2" stroke-dasharray="7 3 2 3" stroke-dashoffset="1.0" stroke-width="1.5"/>
<path d="M326.7 303.6L348.6 289.8" stroke-dasharray="12 3 2.5 3 2.5 3" stroke-dashoffset="0.1" stroke-width="1.5"/>
<path d="M283.0 349.7L359.8 297.8" stroke-dasharray="12 3 2.5 3" stroke-dashoffset="7.8" stroke-width="1.5"/>
<path d="M282.8 272.5L304.7 264.5" stroke-dasharray="7 4" stroke-dashoffset="10.1" stroke-width="1.5"/>
<path d="M277.6 354.4L326.9 326.2" stroke-dasharray="12 3 2.5 3 2.5 3" stroke-dashoffset="4.6" stroke-width="1.5"/>
<path d="M277.4 328.2L310.3 312.5" stroke-dashoffset="0.5" stroke-width="1.5"/>
<path d="M283.1 318.4L337.9 293.5" stroke-dasharray="4 3" stroke-dashoffset="5.9" stroke-width="1.5"/>
<path d="M277.4 314.8L310.3 297.4" stroke-dasharray="7 3 2 3" stroke-dashoffset="7.6" stroke-width="1.5"/>
<path d="M321.3 284.2L337.8 276.0" stroke-dashoffset="10.1" stroke-width="1.5"/>
<path d="M288.4 340.5L304.9 330.8" stroke-dasharray="12 3 2.5 3 2.5 3" stroke-dashoffset="0.8" stroke-width="1.5"/>
<path d="M310.5 253.2L321.5 251.4" stroke-dasharray="7 3 2 3" stroke-dashoffset="9.6" stroke-width="1.5"/>
<path d="M283.0 327.4L299.4 317.5" stroke-dasharray="16 3 3 3 3 3" stroke-dashoffset="10.4" stroke-width="1.5"/>
<path d="M326.7 331.6L376.0 301.5" stroke-dasharray="12 3 2.5 3 2.5 3" stroke-dashoffset="7.3" stroke-width="1.5"/>
<path d="M283.2 293.5L299.6 285.0" stroke-dasharray="16 3 3 3 3 3" stroke-dashoffset="0.3" stroke-width="1.5"/>
<path d="M283.0 284.5L304.9 275.7" stroke-dasharray="12 3 2.5 3 2.5 3" stroke-dashoffset="6.7" stroke-width="1.5"/>
<path d="M277.4 357.0L304.8 339.9" stroke-dasharray="4 3" stroke-dashoffset="6.6" stroke-width="1.5"/>
<path d="M299.5 271.8L321.4 263.8" stroke-dasharray="8 6" stroke-dashoffset="5.9" stroke-width="1.5"/>
<path d="M277.5 319.7L310.4 303.7" stroke-dasharray="18 4 3 4" stroke-dashoffset="8.2" stroke-width="1.5"/>
<path d="M277.5 342.0L304.9 327.3" stroke-dasharray="16 4" stroke-dashoffset="7.5" stroke-width="1.5"/>
<path d="M283.0 356.2L343.2 319.0" stroke-dasharray="7 3 2 3" stroke-dashoffset="9.3" stroke-width="1.5"/>
<path d="M290.3 266.2L312.8 259.2" stroke-dasharray="5 5" stroke-dashoffset="0.5" stroke-width="1.5"/>
<path d="M316.3 266.1L334.6 261.7" stroke-dasharray="12 3 2.5 3" stroke-dashoffset="5.1" stroke-width="1.5"/>
<path d="M324.9 257.2L359.1 251.6" stroke-dasharray="5 5" stroke-dashoffset="2.0" stroke-width="1.5"/>
<path d="M318.3 251.1L356.8 244.1" stroke-dasharray="8 6" stroke-dashoffset="1.5" stroke-width="1.5"/>
<path d="M301.2 262.5L341.1 256.5" stroke-dasharray="7 4" stroke-dashoffset="9.8" stroke-width="1.5"/>
<path d="M300.3 252.4L336.0 243.1" stroke-dasharray="7 4" stroke-dashoffset="11.1" stroke-width="1.5"/>
<path d="M315.1 249.2L345.1 240.6" stroke-dasharray="12 3 2.5 3 2.5 3" stroke-dashoffset="1.4" stroke-width="1.5"/>
<path d="M285.0 256.0L305.6 252.4" stroke-dasharray="8 6" stroke-dashoffset="10.5" stroke-width="1.5"/>
<path d="M314.8 263.4L337.8 258.5" stroke-dasharray="8 6" stroke-dashoffset="11.4" stroke-width="1.5"/>
<path d="M284.6 260.4L316.7 251.0" stroke-dasharray="7 4" stroke-dashoffset="9.6" stroke-width="1.5"/>
<path d="M285.6 256.8L324.1 250.2" stroke-dasharray="16 4" stroke-dashoffset="10.1" stroke-width="1.5"/>
<path d="M328.5 258.5L350.8 253.1" stroke-dasharray="4 3" stroke-dashoffset="4.3" stroke-width="1.5"/>
<path d="M308.3 250.9L344.8 240.1" stroke-dasharray="7 3 2 3" stroke-dashoffset="2.0" stroke-width="1.5"/>
<path d="M300.6 255.4L328.6 249.4" stroke-dasharray="5 5" stroke-dashoffset="3.8" stroke-width="1.5"/>
<path d="M299.4 255.9L322.4 249.5" stroke-dasharray="7 4" stroke-dashoffset="7.6" stroke-width="1.5"/>
<path d="M317.4 246.4L333.7 242.4" stroke-dasharray="8 6" stroke-dashoffset="4.3" stroke-width="1.5"/>
<path d="M310.4 257.6L349.5 246.1" stroke-dasharray="4 3" stroke-dashoffset="10.5" stroke-width="1.5"/>
<path d="M319.6 258.0L346.7 252.4" stroke-dasharray="8 6" stroke-dashoffset="9.5" stroke-width="1.5"/>
<path d="M294.9 265.3L311.5 260.4" stroke-dasharray="5 5" stroke-dashoffset="8.9" stroke-width="1.5"/>
<path d="M307.4 259.2L341.2 250.5" stroke-dasharray="16 4" stroke-dashoffset="4.0" stroke-width="1.5"/>
<path d="M316.4 259.2L358.6 252.4" stroke-dasharray="5 5" stroke-dashoffset="10.7" stroke-width="1.5"/>
<path d="M321.2 266.3L342.6 260.1" stroke-dasharray="12 3 2.5 3 2.5 3" stroke-dashoffset="4.9" stroke-width="1.5"/>
<path d="M302.2 263.3L337.3 257.9" stroke-dasharray="12 3 2.5 3" stroke-dashoffset="3.6" stroke-width="1.5"/>
<path d="M298.2 262.5L345.9 252.0" stroke-dasharray="5 5" stroke-dashoffset="0.9" stroke-width="1.5"/>
<path d="M292.8 268.9L317.7 263.6" stroke-dasharray="5 5" stroke-dashoffset="11.8" stroke-width="1.5"/>
<path d="M300.4 263.6L345.7 252.6" stroke-dasharray="4 3" stroke-dashoffset="10.1" stroke-width="1.5"/>
<path d="M354.2 257.3L388.3 247.9" stroke-dasharray="12 3 2.5 3" stroke-dashoffset="7.5" stroke-width="1.5"/>
<path d="M349.2 254.5L379.9 239.5" stroke-dasharray="8 6" stroke-dashoffset="10.4" stroke-width="1.5"/>
<path d="M373.9 250.4L422.6 234.9" stroke-dasharray="7 4" stroke-dashoffset="1.0" stroke-width="1.5"/>
<path d="M383.6 264.9L403.4 256.7" stroke-dasharray="7 3 2 3" stroke-dashoffset="3.2" stroke-width="1.5"/>
<path d="M373.5 245.4L389.5 238.7" stroke-dasharray="5 5" stroke-dashoffset="3.9" stroke-width="1.5"/>
<path d="M380.0 260.4L418.7 244.9" stroke-dasharray="5 5" stroke-dashoffset="2.1" stroke-width="1.5"/>
<path d="M386.8 261.4L423.2 244.0" stroke-dasharray="12 3 2.5 3 2.5 3" stroke-dashoffset="11.9" stroke-width="1.5"/>
<path d="M359.0 277.6L374.9 273.1" stroke-dasharray="5 5" stroke-dashoffset="6.8" stroke-width="1.5"/>
<path d="M394.3 238.9L434.6 224.9" stroke-dasharray="5 5" stroke-dashoffset="1.9" stroke-width="1.5"/>
<path d="M336.1 265.2L380.5 248.9" stroke-dasharray="5 5" stroke-dashoffset="9.8" stroke-width="1.5"/>
<path d="M360.4 265.4L394.8 253.2" stroke-dasharray="5 5" stroke-dashoffset="2.8" stroke-width="1.5"/>
<path d="M296.6 160.8L439.0 143.6" stroke-dasharray="16.6 3.95"/>
<path d="M280.4 203.2L510.6 128.5" stroke-dasharray="11.1 10.25"/>
<path d="M300.0 239.5L484.5 188.8"/>
<path d="M335.0 232.6L503.0 157.0" stroke-dasharray="4 4.5"/>
<path d="M302.0 241.2L510.6 160.9" stroke-dasharray="12 3 2.5 3 2.5 3"/>
<path d="M394.0 263.5L510.6 181.0" stroke-dasharray="18 4 3 4"/>
<path d="M345.0 252.0L510.6 192.0" stroke-dasharray="12 3 2.5 3"/>
<path d="M372.0 283.5L444.7 246.0" stroke-dasharray="7 4"/>
<path d="M365.0 303.0L418.8 273.8" stroke-dasharray="12 3 3 3"/>
<path d="M318.6 208.4L360.6 203.3" stroke-dasharray="7.5 4 3.5 4.5"/>
<path d="M300.0 219.0L372.0 208.0" stroke-dasharray="8 3.5 3 3.5"/>
<path d="M297.6 225.9L372.0 206.0" stroke-dasharray="4 8"/>
<path d="M312.0 243.7L414.4 208.8" stroke-dasharray="4 3"/>
<path d="M350.0 257.3L411.0 239.8" stroke-dasharray="12 3 2.5 3"/>
<path d="M277.2 390.8L294.2 379.6" stroke-dasharray="15.5 3 2.5 10"/>
<path d="M305.3 378.9L345.4 350.7" stroke-dasharray="12.5 3.1"/>
<path d="M287.9 372.4L301.6 364.7"/>
<path d="M277.2 369.1L291.3 361.0"/>
<path d="M305.8 371.2L328.0 357.2" stroke-dasharray="2.5 3 16 3 2.5 3"/>
<path d="M321.0 349.7L364.7 322.0" stroke-dasharray="12 3 2.5 3"/>
<path d="M305.0 347.5L342.5 326.8"/>
<path d="M330.0 252.0L374.0 239.0" stroke-dasharray="16 4"/>
<path d="M380.0 251.6L391.3 247.6"/>
<path d="M382.6 255.6L388.6 253.2"/>
<path d="M399.3 244.3L410.6 239.9"/>
<path d="M408.6 244.7L414.0 242.3"/>
<path d="M360.0 259.0L370.0 255.6"/>
<path d="M371.3 261.0L377.3 258.6" stroke-width="2"/>
<path d="M344.7 271.0L358.6 266.3"/>
<path d="M402.0 266.3L410.6 263.6" stroke-width="2"/>
<path d="M322.0 300.0L398.6 265.0" stroke-dasharray="7 4"/>
<path d="M330.0 299.0L398.0 268.0" stroke-dasharray="12 3 2.5 3"/>
<path d="M335.0 300.0L397.3 271.0" stroke-dasharray="16 4"/>
<path d="M340.0 300.0L396.0 273.5" stroke-dasharray="4 3"/>
<path d="M345.0 297.0L392.0 276.0" stroke-dasharray="7 3 2 3"/>
<path d="M350.0 287.0L380.0 274.5"/>
</g>
<g clip-path="url(#cr)" stroke="#000" stroke-width="1.25" fill="none" stroke-linecap="butt">
<path d="M554.8 216.3L582.2 205.3" stroke-dasharray="7 4" stroke-dashoffset="11.7" stroke-width="1.5"/>
<path d="M555.2 171.8L588.7 164.8" stroke-dasharray="5 5" stroke-dashoffset="11.7" stroke-width="1.5"/>
<path d="M555.2 198.9L637.4 174.1" stroke-dasharray="16 4" stroke-dashoffset="0.7" stroke-width="1.5"/>
<path d="M555.2 193.1L588.0 183.4" stroke-dasharray="8 6" stroke-dashoffset="10.3" stroke-width="1.5"/>
<path d="M555.1 190.9L598.9 176.3" stroke-dasharray="5 5" stroke-dashoffset="4.7" stroke-width="1.5"/>
<path d="M549.6 215.7L588.3 202.8" stroke-dasharray="16 3 3 3 3 3" stroke-dashoffset="10.4" stroke-width="1.5"/>
<path d="M555.1 193.4L637.3 164.8" stroke-dasharray="4 3" stroke-dashoffset="0.4" stroke-width="1.5"/>
<path d="M549.4 207.6L588.4 194.3" stroke-dasharray="7 3 2 3" stroke-dashoffset="2.6" stroke-width="1.5"/>
<path d="M560.6 158.1L582.5 154.3" stroke-dasharray="12 3 2.5 3 2.5 3" stroke-dashoffset="0.0" stroke-width="1.5"/>
<path d="M555.0 169.4L609.8 161.1" stroke-dashoffset="10.6" stroke-width="1.5"/>
<path d="M555.1 225.4L664.7 183.3" stroke-dasharray="12 3 2.5 3" stroke-dashoffset="8.2" stroke-width="1.5"/>
<path d="M566.1 156.4L587.5 152.6" stroke-dasharray="7 4" stroke-dashoffset="5.6" stroke-width="1.5"/>
<path d="M555.0 183.0L577.0 177.2" stroke-dashoffset="7.0" stroke-width="1.5"/>
<path d="M549.4 200.5L585.6 188.3" stroke-dashoffset="11.9" stroke-width="1.5"/>
<path d="M549.5 226.8L586.9 211.2" stroke-dasharray="16 3 3 3 3 3" stroke-dashoffset="6.5" stroke-width="1.5"/>
<path d="M588.0 183.5L631.8 171.5" stroke-dasharray="4 3" stroke-dashoffset="10.2" stroke-width="1.5"/>
<path d="M549.6 258.2L675.6 198.1" stroke-dashoffset="4.9" stroke-width="1.5"/>
<path d="M549.6 180.3L577.0 173.9" stroke-dasharray="7 4" stroke-dashoffset="4.0" stroke-width="1.5"/>
<path d="M554.9 250.9L571.3 242.4" stroke-dasharray="5 5" stroke-dashoffset="4.6" stroke-width="1.5"/>
<path d="M576.8 154.4L620.6 148.1" stroke-dasharray="8 6" stroke-dashoffset="7.3" stroke-width="1.5"/>
<path d="M554.8 168.5L598.7 161.0" stroke-dasharray="8 6" stroke-dashoffset="6.7" stroke-width="1.5"/>
<path d="M555.0 184.9L582.4 176.7" stroke-dasharray="16 3 3 3 3 3" stroke-dashoffset="10.2" stroke-width="1.5"/>
<path d="M582.5 188.4L593.5 185.4" stroke-dasharray="7 4" stroke-dashoffset="3.2" stroke-width="1.5"/>
<path d="M549.6 219.9L585.5 204.5" stroke-dasharray="5 5" stroke-dashoffset="3.2" stroke-width="1.5"/>
<path d="M555.0 187.2L587.6 177.9" stroke-dasharray="5 5" stroke-dashoffset="6.3" stroke-width="1.5"/>
<path d="M560.4 190.0L593.2 181.7" stroke-dasharray="16 3 3 3 3 3" stroke-dashoffset="10.4" stroke-width="1.5"/>
<path d="M560.6 179.7L588.0 174.5" stroke-dasharray="16 4" stroke-dashoffset="4.4" stroke-width="1.5"/>
<path d="M555.0 190.9L577.0 185.3" stroke-dasharray="7 3 2 3" stroke-dashoffset="8.3" stroke-width="1.5"/>
<path d="M555.1 187.8L582.5 181.3" stroke-dasharray="4 3" stroke-dashoffset="7.5" stroke-width="1.5"/>
<path d="M549.5 217.0L587.4 204.8" stroke-dasharray="12 3 2.5 3" stroke-dashoffset="8.6" stroke-width="1.5"/>
<path d="M555.1 176.1L585.9 170.4" stroke-dasharray="4 3" stroke-dashoffset="1.5" stroke-width="1.5"/>
<path d="M555.1 111.8L577.1 110.7" stroke-dasharray="5 5" stroke-dashoffset="3.5" stroke-width="1.5"/>
<path d="M560.4 198.5L615.2 179.9" stroke-dasharray="8 6" stroke-dashoffset="7.0" stroke-width="1.5"/>
<path d="M560.3 163.7L582.2 160.2" stroke-dasharray="18 4 3 4" stroke-dashoffset="6.0" stroke-width="1.5"/>
<path d="M549.5 212.2L615.3 187.5" stroke-dasharray="7 3 2 3" stroke-dashoffset="2.1" stroke-width="1.5"/>
<path d="M549.6 183.1L587.6 174.1" stroke-dasharray="7 4" stroke-dashoffset="0.5" stroke-width="1.5"/>
<path d="M555.1 193.2L587.6 184.6" stroke-dashoffset="1.2" stroke-width="1.5"/>
<path d="M554.8 210.1L582.2 201.1" stroke-dasharray="7 3 2 3" stroke-dashoffset="10.4" stroke-width="1.5"/>
<path d="M560.3 207.6L576.8 201.8" stroke-dasharray="4 3" stroke-dashoffset="6.2" stroke-width="1.5"/>
<path d="M549.4 251.2L565.8 243.5" stroke-dasharray="12 3 2.5 3" stroke-dashoffset="6.7" stroke-width="1.5"/>
<path d="M549.4 184.9L609.7 172.0" stroke-dasharray="4 3" stroke-dashoffset="1.6" stroke-width="1.5"/>
<path d="M571.5 194.8L588.5 188.8" stroke-dasharray="7 3 2 3" stroke-dashoffset="11.0" stroke-width="1.5"/>
<path d="M555.0 142.6L585.3 138.9" stroke-dasharray="12 3 2.5 3 2.5 3" stroke-dashoffset="0.4" stroke-width="1.5"/>
<path d="M554.9 185.2L593.2 176.9" stroke-dasharray="4 3" stroke-dashoffset="10.5" stroke-width="1.5"/>
<path d="M554.8 184.5L598.6 173.1" stroke-dasharray="16 4" stroke-dashoffset="6.0" stroke-width="1.5"/>
<path d="M554.8 207.0L587.3 196.5" stroke-dasharray="7 4" stroke-dashoffset="10.1" stroke-width="1.5"/>
<path d="M549.3 233.1L588.0 218.9" stroke-dasharray="18 4 3 4" stroke-dashoffset="2.7" stroke-width="1.5"/>
<path d="M554.9 205.1L659.1 163.6" stroke-dasharray="7 4" stroke-dashoffset="0.5" stroke-width="1.5"/>
<path d="M555.0 173.1L588.9 165.3" stroke-dasharray="12 3 2.5 3" stroke-dashoffset="3.9" stroke-width="1.5"/>
<path d="M555.2 158.4L588.2 152.8" stroke-dasharray="4 3" stroke-dashoffset="7.9" stroke-width="1.5"/>
<path d="M549.4 164.9L571.3 161.0" stroke-dashoffset="9.9" stroke-width="1.5"/>
<path d="M576.8 221.8L615.2 204.7" stroke-dasharray="16 4" stroke-dashoffset="2.4" stroke-width="1.5"/>
<path d="M555.1 174.3L582.5 169.4" stroke-dasharray="5 5" stroke-dashoffset="10.7" stroke-width="1.5"/>
<path d="M566.0 164.8L587.5 160.7" stroke-dasharray="7 4" stroke-dashoffset="7.9" stroke-width="1.5"/>
<path d="M554.9 176.7L576.8 171.7" stroke-dasharray="16 4" stroke-dashoffset="8.7" stroke-width="1.5"/>
<path d="M549.4 211.3L560.3 207.4" stroke-dashoffset="6.2" stroke-width="1.5"/>
<path d="M549.5 202.0L566.0 196.7" stroke-dasharray="7 4" stroke-dashoffset="8.0" stroke-width="1.5"/>
<path d="M555.1 127.7L577.0 127.0" stroke-dasharray="16 4" stroke-dashoffset="10.5" stroke-width="1.5"/>
<path d="M554.8 188.9L582.2 181.0" stroke-dasharray="12 3 2.5 3 2.5 3" stroke-dashoffset="11.4" stroke-width="1.5"/>
<path d="M582.5 185.5L598.9 180.9" stroke-dasharray="16 4" stroke-dashoffset="0.2" stroke-width="1.5"/>
<path d="M555.0 188.4L571.4 183.8" stroke-dasharray="12 3 2.5 3" stroke-dashoffset="12.0" stroke-width="1.5"/>
<path d="M549.5 200.2L587.1 188.0" stroke-dasharray="4 3" stroke-dashoffset="7.1" stroke-width="1.5"/>
<path d="M549.4 207.8L586.9 194.8" stroke-dashoffset="2.6" stroke-width="1.5"/>
<path d="M554.8 161.3L585.9 156.0" stroke-dasharray="12 3 2.5 3 2.5 3" stroke-dashoffset="11.3" stroke-width="1.5"/>
<path d="M549.4 183.9L585.7 174.8" stroke-dasharray="12 3 2.5 3 2.5 3" stroke-dashoffset="9.2" stroke-width="1.5"/>
<path d="M555.1 232.0L593.4 216.0" stroke-dasharray="7 4" stroke-dashoffset="9.4" stroke-width="1.5"/>
<path d="M554.9 209.9L588.5 198.4" stroke-dasharray="5 5" stroke-dashoffset="4.9" stroke-width="1.5"/>
<path d="M555.1 242.0L571.5 233.7" stroke-dasharray="8 6" stroke-dashoffset="11.2" stroke-width="1.5"/>
<path d="M560.6 207.3L582.5 199.9" stroke-dasharray="16 3 3 3 3 3" stroke-dashoffset="9.4" stroke-width="1.5"/>
<path d="M576.7 169.3L615.1 161.4" stroke-dasharray="4 3" stroke-dashoffset="2.4" stroke-width="1.5"/>
<path d="M555.1 167.5L588.0 159.3" stroke-dasharray="18 4 3 4" stroke-dashoffset="8.0" stroke-width="1.5"/>
<path d="M554.9 198.4L589.1 186.2" stroke-dasharray="5 5" stroke-dashoffset="4.1" stroke-width="1.5"/>
<path d="M554.8 219.5L565.7 215.9" stroke-dasharray="16 4" stroke-dashoffset="10.5" stroke-width="1.5"/>
<path d="M554.8 182.8L582.2 175.6" stroke-dashoffset="3.5" stroke-width="1.5"/>
<path d="M555.0 171.2L593.3 163.0" stroke-dasharray="16 4" stroke-dashoffset="2.6" stroke-width="1.5"/>
<path d="M560.4 178.7L588.1 171.8" stroke-dasharray="12 3 2.5 3 2.5 3" stroke-dashoffset="10.7" stroke-width="1.5"/>
<path d="M555.0 227.1L681.0 180.8" stroke-dasharray="7 4" stroke-dashoffset="4.7" stroke-width="1.5"/>
<path d="M549.4 223.4L576.8 212.7" stroke-dasharray="8 6" stroke-dashoffset="4.2" stroke-width="1.5"/>
<path d="M560.5 190.9L648.1 161.7" stroke-dasharray="16 4" stroke-dashoffset="6.2" stroke-width="1.5"/>
<path d="M554.9 171.0L589.6 165.5" stroke-dasharray="7 4" stroke-dashoffset="9.7" stroke-width="1.5"/>
<path d="M555.1 201.3L604.4 189.0" stroke-dasharray="18 4 3 4" stroke-dashoffset="5.4" stroke-width="1.5"/>
<path d="M555.1 226.5L587.3 213.8" stroke-dasharray="12 3 2.5 3" stroke-dashoffset="1.7" stroke-width="1.5"/>
<path d="M549.5 196.4L582.3 187.3" stroke-dasharray="12 3 2.5 3" stroke-dashoffset="7.5" stroke-width="1.5"/>
<path d="M549.5 213.9L708.4 156.6" stroke-dasharray="7 3 2 3" stroke-dashoffset="11.6" stroke-width="1.5"/>
<path d="M549.4 206.0L582.2 195.6" stroke-dasharray="5 5" stroke-dashoffset="6.4" stroke-width="1.5"/>
<path d="M560.3 163.0L604.1 154.4" stroke-dasharray="16 4" stroke-dashoffset="3.6" stroke-width="1.5"/>
<path d="M582.3 229.9L653.5 200.2" stroke-dasharray="16 4" stroke-dashoffset="3.9" stroke-width="1.5"/>
<path d="M554.9 152.3L571.4 149.0" stroke-dasharray="16 4" stroke-dashoffset="5.4" stroke-width="1.5"/>
<path d="M554.9 199.9L587.6 191.5" stroke-dasharray="7 4" stroke-dashoffset="10.2" stroke-width="1.5"/>
<path d="M555.1 147.4L593.4 141.2" stroke-dasharray="16 3 3 3 3 3" stroke-dashoffset="1.5" stroke-width="1.5"/>
<path d="M555.1 131.2L598.9 127.5" stroke-dasharray="16 4" stroke-dashoffset="10.5" stroke-width="1.5"/>
<path d="M560.6 195.6L604.4 184.2" stroke-dasharray="7 4" stroke-dashoffset="7.7" stroke-width="1.5"/>
<path d="M555.1 116.4L577.0 114.8" stroke-dasharray="5 5" stroke-dashoffset="4.0" stroke-width="1.5"/>
<path d="M549.6 207.9L585.6 197.6" stroke-dasharray="12 3 2.5 3" stroke-dashoffset="1.6" stroke-width="1.5"/>
<path d="M555.0 145.8L576.9 143.8" stroke-dasharray="16 4" stroke-dashoffset="8.7" stroke-width="1.5"/>
<path d="M560.3 201.1L598.7 187.4" stroke-dasharray="4 3" stroke-dashoffset="6.0" stroke-width="1.5"/>
<path d="M555.1 227.4L585.8 213.8" stroke-dasharray="8 6" stroke-dashoffset="10.5" stroke-width="1.5"/>
<path d="M555.1 227.1L588.0 212.9" stroke-dasharray="12 3 2.5 3" stroke-dashoffset="1.1" stroke-width="1.5"/>
<path d="M560.4 240.7L571.4 235.4" stroke-dasharray="12 3 2.5 3 2.5 3" stroke-dashoffset="2.6" stroke-width="1.5"/>
<path d="M555.0 211.3L565.9 207.9" stroke-dasharray="7 4" stroke-dashoffset="9.9" stroke-width="1.5"/>
<path d="M554.9 166.6L585.4 160.6" stroke-dasharray="4 3" stroke-dashoffset="6.7" stroke-width="1.5"/>
<path d="M576.8 168.2L598.7 164.2" stroke-dasharray="16 3 3 3 3 3" stroke-dashoffset="3.3" stroke-width="1.5"/>
<path d="M555.2 153.5L589.2 150.2" stroke-dashoffset="9.7" stroke-width="1.5"/>
<path d="M577.0 111.7L615.3 110.4" stroke-dasharray="4 3" stroke-dashoffset="4.1" stroke-width="1.5"/>
<path d="M554.9 182.2L582.3 175.0" stroke-dasharray="7 3 2 3" stroke-dashoffset="9.3" stroke-width="1.5"/>
<path d="M554.9 209.1L585.6 198.7" stroke-dasharray="5 5" stroke-dashoffset="11.4" stroke-width="1.5"/>
<path d="M554.8 207.1L642.5 178.1" stroke-dasharray="16 3 3 3 3 3" stroke-dashoffset="6.5" stroke-width="1.5"/>
<path d="M554.9 198.8L571.3 193.9" stroke-dasharray="8 6" stroke-dashoffset="2.1" stroke-width="1.5"/>
<path d="M560.4 225.6L587.8 214.9" stroke-dasharray="5 5" stroke-dashoffset="10.6" stroke-width="1.5"/>
<path d="M554.9 149.0L582.3 147.2" stroke-dasharray="12 3 2.5 3" stroke-dashoffset="6.1" stroke-width="1.5"/>
<path d="M549.7 170.4L593.5 159.4" stroke-dasharray="7 4" stroke-dashoffset="5.2" stroke-width="1.5"/>
<path d="M560.6 179.4L593.5 171.6" stroke-dasharray="18 4 3 4" stroke-dashoffset="0.3" stroke-width="1.5"/>
<path d="M549.6 245.4L585.5 229.1" stroke-dasharray="12 3 2.5 3 2.5 3" stroke-dashoffset="4.1" stroke-width="1.5"/>
<path d="M555.1 186.3L587.8 176.8" stroke-dasharray="16 4" stroke-dashoffset="1.2" stroke-width="1.5"/>
<path d="M549.5 238.2L637.2 202.7" stroke-dasharray="7 3 2 3" stroke-dashoffset="9.1" stroke-width="1.5"/>
<path d="M560.3 204.6L724.7 144.4" stroke-dasharray="7 3 2 3" stroke-dashoffset="8.3" stroke-width="1.5"/>
<path d="M571.2 153.6L615.1 144.4" stroke-dasharray="4 3" stroke-dashoffset="0.1" stroke-width="1.5"/>
<path d="M549.6 211.0L604.4 191.7" stroke-dashoffset="0.5" stroke-width="1.5"/>
<path d="M566.1 165.7L586.0 161.4" stroke-dasharray="18 4 3 4" stroke-dashoffset="3.2" stroke-width="1.5"/>
<path d="M554.8 133.8L702.8 120.1" stroke-dasharray="7 4" stroke-dashoffset="1.7" stroke-width="1.5"/>
<path d="M555.0 198.0L598.8 186.1" stroke-dashoffset="6.7" stroke-width="1.5"/>
<path d="M555.0 189.3L566.0 186.3" stroke-dashoffset="7.9" stroke-width="1.5"/>
<path d="M555.0 186.2L593.4 176.4" stroke-dasharray="4 3" stroke-dashoffset="1.5" stroke-width="1.5"/>
<path d="M554.8 165.0L691.8 142.0" stroke-dasharray="12 3 2.5 3 2.5 3" stroke-dashoffset="8.1" stroke-width="1.5"/>
<path d="M560.7 167.2L582.6 163.3" stroke-dasharray="7 3 2 3" stroke-dashoffset="7.3" stroke-width="1.5"/>
<path d="M549.3 266.5L587.0 247.1" stroke-dasharray="7 4" stroke-dashoffset="4.6" stroke-width="1.5"/>
<path d="M554.9 265.7L585.9 247.8" stroke-dasharray="16 4" stroke-dashoffset="11.0" stroke-width="1.5"/>
<path d="M549.6 208.3L598.9 192.9" stroke-dasharray="12 3 2.5 3" stroke-dashoffset="5.3" stroke-width="1.5"/>
<path d="M554.9 169.3L565.9 166.8" stroke-dasharray="7 3 2 3" stroke-dashoffset="2.0" stroke-width="1.5"/>
<path d="M555.0 201.1L593.4 189.2" stroke-dashoffset="4.9" stroke-width="1.5"/>
<path d="M560.6 165.6L599.0 156.2" stroke-dasharray="5 5" stroke-dashoffset="2.9" stroke-width="1.5"/>
<path d="M554.8 148.2L565.8 147.0" stroke-dasharray="16 4" stroke-dashoffset="11.6" stroke-width="1.5"/>
<path d="M555.0 191.3L626.2 169.6" stroke-dasharray="7 4" stroke-dashoffset="8.3" stroke-width="1.5"/>
<path d="M554.9 109.3L593.3 109.7" stroke-dasharray="7 4" stroke-dashoffset="7.3" stroke-width="1.5"/>
<path d="M571.5 157.4L593.4 153.6" stroke-dashoffset="1.1" stroke-width="1.5"/>
<path d="M555.0 199.9L586.8 190.1" stroke-dasharray="16 4" stroke-dashoffset="8.3" stroke-width="1.5"/>
<path d="M549.3 145.9L588.0 140.9" stroke-dasharray="7 3 2 3" stroke-dashoffset="7.8" stroke-width="1.5"/>
<path d="M571.3 218.6L598.7 208.4" stroke-dasharray="7 3 2 3" stroke-dashoffset="11.9" stroke-width="1.5"/>
<path d="M554.9 222.4L586.2 210.8" stroke-dasharray="16 4" stroke-dashoffset="10.3" stroke-width="1.5"/>
<path d="M549.3 204.2L588.1 193.2" stroke-dasharray="16 3 3 3 3 3" stroke-dashoffset="7.9" stroke-width="1.5"/>
<path d="M549.5 171.5L560.5 169.2" stroke-dasharray="12 3 2.5 3" stroke-dashoffset="7.8" stroke-width="1.5"/>
<path d="M549.3 167.6L675.3 144.6" stroke-dasharray="8 6" stroke-dashoffset="2.1" stroke-width="1.5"/>
<path d="M554.8 208.4L589.3 196.4" stroke-dasharray="5 5" stroke-dashoffset="2.0" stroke-width="1.5"/>
<path d="M549.6 235.7L604.4 214.6" stroke-dasharray="7 3 2 3" stroke-dashoffset="3.2" stroke-width="1.5"/>
<path d="M554.9 151.2L582.3 146.4" stroke-dasharray="7 3 2 3" stroke-dashoffset="1.4" stroke-width="1.5"/>
<path d="M549.3 207.9L587.6 194.6" stroke-dasharray="7 3 2 3" stroke-dashoffset="0.7" stroke-width="1.5"/>
<path d="M554.9 170.7L582.3 164.9" stroke-dasharray="4 3" stroke-dashoffset="6.8" stroke-width="1.5"/>
<path d="M560.3 237.7L637.0 204.1" stroke-dasharray="4 3" stroke-dashoffset="6.3" stroke-width="1.5"/>
<path d="M549.5 176.4L565.9 171.6" stroke-dasharray="5 5" stroke-dashoffset="5.4" stroke-width="1.5"/>
<path d="M554.9 164.7L588.9 158.9" stroke-dasharray="7 4" stroke-dashoffset="6.1" stroke-width="1.5"/>
<path d="M571.5 210.1L586.5 204.6" stroke-dasharray="16 3 3 3 3 3" stroke-dashoffset="7.3" stroke-width="1.5"/>
<path d="M560.6 156.3L599.0 148.5" stroke-dasharray="12 3 2.5 3 2.5 3" stroke-dashoffset="7.9" stroke-width="1.5"/>
<path d="M549.5 206.7L609.8 186.8" stroke-dasharray="7 4" stroke-dashoffset="10.1" stroke-width="1.5"/>
<path d="M554.8 174.9L588.1 166.4" stroke-dasharray="7 3 2 3" stroke-dashoffset="2.8" stroke-width="1.5"/>
<path d="M571.5 186.1L615.3 175.1" stroke-dasharray="4 3" stroke-dashoffset="10.0" stroke-width="1.5"/>
<path d="M554.9 257.3L576.8 246.7" stroke-dasharray="16 3 3 3 3 3" stroke-dashoffset="8.5" stroke-width="1.5"/>
<path d="M549.6 213.6L588.0 199.9" stroke-dasharray="7 3 2 3" stroke-dashoffset="6.7" stroke-width="1.5"/>
<path d="M554.8 156.5L669.9 134.0" stroke-dasharray="7 4" stroke-dashoffset="12.0" stroke-width="1.5"/>
<path d="M554.8 175.6L593.2 166.6" stroke-dasharray="12 3 2.5 3" stroke-dashoffset="10.7" stroke-width="1.5"/>
<path d="M588.0 209.6L599.0 205.5" stroke-dasharray="18 4 3 4" stroke-dashoffset="11.0" stroke-width="1.5"/>
<path d="M554.9 133.9L582.3 133.4" stroke-dasharray="12 3 2.5 3" stroke-dashoffset="9.7" stroke-width="1.5"/>
<path d="M549.4 191.6L582.3 182.2" stroke-dasharray="5 5" stroke-dashoffset="4.4" stroke-width="1.5"/>
<path d="M555.0 193.4L664.6 162.1" stroke-dasharray="16 3 3 3 3 3" stroke-dashoffset="2.8" stroke-width="1.5"/>
<path d="M554.8 191.1L587.3 183.1" stroke-dasharray="7 3 2 3" stroke-dashoffset="2.5" stroke-width="1.5"/>
<path d="M549.4 233.5L620.7 204.2" stroke-dasharray="12 3 2.5 3 2.5 3" stroke-dashoffset="9.4" stroke-width="1.5"/>
<path d="M582.4 174.9L598.8 169.5" stroke-dasharray="8 6" stroke-dashoffset="2.8" stroke-width="1.5"/>
<path d="M555.1 178.9L577.0 174.1" stroke-dashoffset="6.1" stroke-width="1.5"/>
<path d="M555.0 197.9L576.9 191.7" stroke-dasharray="7 4" stroke-dashoffset="4.3" stroke-width="1.5"/>
<path d="M555.0 185.0L587.7 178.1" stroke-dasharray="12 3 2.5 3 2.5 3" stroke-dashoffset="1.4" stroke-width="1.5"/>
<path d="M554.9 173.1L576.8 168.4" stroke-dasharray="12 3 2.5 3" stroke-dashoffset="7.8" stroke-width="1.5"/>
<path d="M555.0 145.6L566.0 144.8" stroke-dashoffset="7.1" stroke-width="1.5"/>
<path d="M549.6 195.1L566.1 190.5" stroke-dasharray="7 4" stroke-dashoffset="3.2" stroke-width="1.5"/>
<path d="M549.3 250.6L658.9 197.4" stroke-dasharray="7 4" stroke-dashoffset="5.6" stroke-width="1.5"/>
<path d="M555.1 178.0L615.4 165.2" stroke-dasharray="12 3 2.5 3" stroke-dashoffset="1.1" stroke-width="1.5"/>
<path d="M549.6 206.4L571.5 198.9" stroke-dasharray="7 3 2 3" stroke-dashoffset="1.7" stroke-width="1.5"/>
<path d="M560.6 246.5L586.6 234.5" stroke-dashoffset="2.8" stroke-width="1.5"/>
<path d="M549.5 217.1L642.7 185.1" stroke-dasharray="4 3" stroke-dashoffset="7.5" stroke-width="1.5"/>
<path d="M554.8 187.5L609.6 175.5" stroke-dasharray="16 3 3 3 3 3" stroke-dashoffset="5.5" stroke-width="1.5"/>
<path d="M554.9 189.4L587.8 181.2" stroke-dasharray="7 4" stroke-dashoffset="3.5" stroke-width="1.5"/>
<path d="M555.1 204.2L571.6 199.0" stroke-dasharray="7 4" stroke-dashoffset="0.7" stroke-width="1.5"/>
<path d="M555.1 177.2L593.4 169.4" stroke-dasharray="18 4 3 4" stroke-dashoffset="3.8" stroke-width="1.5"/>
<path d="M554.8 143.8L587.9 141.2" stroke-dasharray="16 3 3 3 3 3" stroke-dashoffset="10.5" stroke-width="1.5"/>
<path d="M549.5 164.8L576.9 159.0" stroke-dasharray="5 5" stroke-dashoffset="0.9" stroke-width="1.5"/>
<path d="M554.8 198.5L582.2 190.1" stroke-dasharray="7 3 2 3" stroke-dashoffset="3.8" stroke-width="1.5"/>
<path d="M554.9 205.7L637.1 173.3" stroke-dasharray="16 4" stroke-dashoffset="9.2" stroke-width="1.5"/>
<path d="M549.6 233.8L626.4 203.5" stroke-dasharray="16 4" stroke-dashoffset="5.6" stroke-width="1.5"/>
<path d="M549.6 175.0L586.2 167.2" stroke-dasharray="18 4 3 4" stroke-dashoffset="8.4" stroke-width="1.5"/>
<path d="M549.7 210.1L566.1 204.3" stroke-dasharray="7 4" stroke-dashoffset="7.2" stroke-width="1.5"/>
<path d="M555.1 168.0L577.0 162.9" stroke-dasharray="4 3" stroke-dashoffset="5.5" stroke-width="1.5"/>
<path d="M571.4 148.7L598.8 146.1" stroke-dasharray="8 6" stroke-dashoffset="2.4" stroke-width="1.5"/>
<path d="M571.3 203.8L631.5 182.5" stroke-dasharray="4 3" stroke-dashoffset="0.3" stroke-width="1.5"/>
<path d="M555.2 216.3L588.9 203.3" stroke-dasharray="16 3 3 3 3 3" stroke-dashoffset="2.3" stroke-width="1.5"/>
<path d="M560.5 215.1L587.6 204.7" stroke-dashoffset="11.4" stroke-width="1.5"/>
<path d="M560.4 218.1L582.3 208.9" stroke-dasharray="12 3 2.5 3 2.5 3" stroke-dashoffset="4.7" stroke-width="1.5"/>
<path d="M549.6 237.8L585.1 222.5" stroke-dasharray="16 3 3 3 3 3" stroke-dashoffset="9.7" stroke-width="1.5"/>
<path d="M555.1 262.6L587.0 244.2" stroke-dasharray="12 3 2.5 3" stroke-dashoffset="1.6" stroke-width="1.5"/>
<path d="M560.4 175.4L598.8 165.7" stroke-dasharray="5 5" stroke-dashoffset="1.7" stroke-width="1.5"/>
<path d="M555.0 209.4L577.0 203.2" stroke-dasharray="12 3 2.5 3 2.5 3" stroke-dashoffset="5.6" stroke-width="1.5"/>
<path d="M560.6 207.9L571.5 204.3" stroke-dasharray="16 4" stroke-dashoffset="3.9" stroke-width="1.5"/>
<path d="M549.3 216.5L588.2 204.4" stroke-dasharray="7 3 2 3" stroke-dashoffset="7.7" stroke-width="1.5"/>
<path d="M555.0 187.7L577.0 182.6" stroke-dasharray="12 3 2.5 3" stroke-dashoffset="8.9" stroke-width="1.5"/>
<path d="M555.2 230.0L599.0 210.7" stroke-dasharray="7 3 2 3" stroke-dashoffset="5.0" stroke-width="1.5"/>
<path d="M549.4 203.7L565.9 197.7" stroke-dasharray="16 4" stroke-dashoffset="0.4" stroke-width="1.5"/>
<path d="M555.0 184.7L585.3 178.8" stroke-dasharray="5 5" stroke-dashoffset="8.9" stroke-width="1.5"/>
<path d="M554.8 214.2L593.2 200.2" stroke-dasharray="8 6" stroke-dashoffset="5.2" stroke-width="1.5"/>
<path d="M565.9 202.9L713.8 159.6" stroke-dasharray="5 5" stroke-dashoffset="6.0" stroke-width="1.5"/>
<path d="M582.3 153.0L659.0 140.5" stroke-dasharray="5 5" stroke-dashoffset="1.4" stroke-width="1.5"/>
<path d="M549.5 143.8L585.2 141.5" stroke-dasharray="4 3" stroke-dashoffset="6.1" stroke-width="1.5"/>
<path d="M549.6 195.1L577.0 186.3" stroke-dasharray="16 4" stroke-dashoffset="8.3" stroke-width="1.5"/>
<path d="M555.0 167.8L598.9 161.4" stroke-dasharray="7 4" stroke-dashoffset="9.0" stroke-width="1.5"/>
<path d="M554.9 169.8L598.7 161.7" stroke-dasharray="4 3" stroke-dashoffset="11.7" stroke-width="1.5"/>
<path d="M555.0 152.9L582.4 149.3" stroke-dasharray="7 3 2 3" stroke-dashoffset="11.3" stroke-width="1.5"/>
<path d="M549.6 150.0L566.1 148.7" stroke-dasharray="7 3 2 3" stroke-dashoffset="2.1" stroke-width="1.5"/>
<path d="M555.1 192.4L620.8 175.3" stroke-dasharray="18 4 3 4" stroke-dashoffset="3.6" stroke-width="1.5"/>
<path d="M549.4 167.1L576.8 161.9" stroke-dasharray="7 4" stroke-dashoffset="5.0" stroke-width="1.5"/>
<path d="M555.0 211.5L576.9 203.8" stroke-dasharray="7 4" stroke-dashoffset="2.0" stroke-width="1.5"/>
<path d="M593.2 194.2L615.1 187.9" stroke-dasharray="8 6" stroke-dashoffset="8.3" stroke-width="1.5"/>
<path d="M560.5 158.3L582.4 156.0" stroke-dasharray="16 3 3 3 3 3" stroke-dashoffset="8.5" stroke-width="1.5"/>
<path d="M554.8 237.5L585.7 224.1" stroke-dashoffset="11.4" stroke-width="1.5"/>
<path d="M560.6 177.6L604.4 165.5" stroke-dasharray="7 4" stroke-dashoffset="6.6" stroke-width="1.5"/>
<path d="M549.7 173.6L692.1 139.9" stroke-dasharray="5 5" stroke-dashoffset="5.8" stroke-width="1.5"/>
<path d="M560.4 177.1L587.6 168.9" stroke-dasharray="12 3 2.5 3 2.5 3" stroke-dashoffset="3.1" stroke-width="1.5"/>
<path d="M560.3 192.3L571.2 189.0" stroke-dasharray="5 5" stroke-dashoffset="11.0" stroke-width="1.5"/>
<path d="M555.1 171.7L589.1 165.4" stroke-dasharray="4 3" stroke-dashoffset="2.5" stroke-width="1.5"/>
<path d="M554.9 157.0L708.3 130.4" stroke-dasharray="16 4" stroke-dashoffset="11.4" stroke-width="1.5"/>
<path d="M549.7 233.7L566.1 226.9" stroke-dasharray="8 6" stroke-dashoffset="6.0" stroke-width="1.5"/>
<path d="M555.1 183.7L566.0 181.0" stroke-dasharray="7 4" stroke-dashoffset="1.5" stroke-width="1.5"/>
<path d="M554.8 205.8L588.1 195.4" stroke-dasharray="16 3 3 3 3 3" stroke-dashoffset="11.3" stroke-width="1.5"/>
<path d="M560.4 154.0L586.5 151.1" stroke-dasharray="7 3 2 3" stroke-dashoffset="11.7" stroke-width="1.5"/>
<path d="M549.4 265.6L560.3 260.0" stroke-dasharray="7 4" stroke-dashoffset="7.5" stroke-width="1.5"/>
<path d="M555.1 213.2L587.3 202.5" stroke-dasharray="16 3 3 3 3 3" stroke-dashoffset="4.0" stroke-width="1.5"/>
<path d="M560.6 233.2L577.1 226.1" stroke-dasharray="7 4" stroke-dashoffset="8.3" stroke-width="1.5"/>
<path d="M555.1 200.1L577.1 192.9" stroke-dasharray="8 6" stroke-dashoffset="8.0" stroke-width="1.5"/>
<path d="M555.2 207.1L736.0 134.4" stroke-dasharray="16 4" stroke-dashoffset="1.9" stroke-width="1.5"/>
<path d="M582.5 158.6L768.8 127.5" stroke-dasharray="12 3 2.5 3 2.5 3" stroke-dashoffset="7.7" stroke-width="1.5"/>
<path d="M555.0 214.7L593.4 198.8" stroke-dasharray="16 4" stroke-dashoffset="5.9" stroke-width="1.5"/>
<path d="M554.8 141.6L587.7 137.4" stroke-dashoffset="1.0" stroke-width="1.5"/>
<path d="M554.8 151.9L626.1 142.8" stroke-dasharray="8 6" stroke-dashoffset="9.7" stroke-width="1.5"/>
<path d="M554.8 185.7L586.6 177.9" stroke-dasharray="12 3 2.5 3" stroke-dashoffset="3.3" stroke-width="1.5"/>
<path d="M571.5 223.9L586.1 217.6" stroke-dasharray="16 3 3 3 3 3" stroke-dashoffset="10.4" stroke-width="1.5"/>
<path d="M554.8 237.1L565.8 232.3" stroke-dasharray="7 4" stroke-dashoffset="8.8" stroke-width="1.5"/>
<path d="M560.6 176.7L588.8 169.6" stroke-dasharray="7 3 2 3" stroke-dashoffset="5.7" stroke-width="1.5"/>
<path d="M560.3 218.6L593.2 205.0" stroke-dasharray="12 3 2.5 3 2.5 3" stroke-dashoffset="10.1" stroke-width="1.5"/>
<path d="M555.1 238.5L588.6 224.0" stroke-dasharray="12 3 2.5 3" stroke-dashoffset="4.0" stroke-width="1.5"/>
<path d="M555.1 232.9L589.7 218.3" stroke-dasharray="16 4" stroke-dashoffset="3.6" stroke-width="1.5"/>
<path d="M549.5 255.8L571.5 245.5" stroke-dasharray="12 3 2.5 3 2.5 3" stroke-dashoffset="8.2" stroke-width="1.5"/>
<path d="M555.1 167.4L708.5 136.8" stroke-dasharray="7 4" stroke-dashoffset="6.2" stroke-width="1.5"/>
<path d="M560.6 174.4L637.3 159.4" stroke-dasharray="16 4" stroke-dashoffset="6.6" stroke-width="1.5"/>
<path d="M555.1 195.6L599.0 181.9" stroke-dasharray="7 4" stroke-dashoffset="6.0" stroke-width="1.5"/>
<path d="M554.9 176.4L598.7 166.7" stroke-dasharray="7 3 2 3" stroke-dashoffset="7.6" stroke-width="1.5"/>
<path d="M554.9 236.5L637.1 198.6" stroke-dasharray="7 4" stroke-dashoffset="11.5" stroke-width="1.5"/>
<path d="M554.9 161.2L586.0 155.4" stroke-dasharray="18 4 3 4" stroke-dashoffset="0.1" stroke-width="1.5"/>
<path d="M554.8 165.0L588.9 160.2" stroke-dasharray="16 3 3 3 3 3" stroke-dashoffset="3.4" stroke-width="1.5"/>
<path d="M555.0 163.3L593.4 156.0" stroke-dasharray="12 3 2.5 3" stroke-dashoffset="3.8" stroke-width="1.5"/>
<path d="M555.1 129.6L586.3 126.1" stroke-dasharray="4 3" stroke-dashoffset="11.9" stroke-width="1.5"/>
<path d="M554.8 166.4L642.5 145.8" stroke-dasharray="18 4 3 4" stroke-dashoffset="4.9" stroke-width="1.5"/>
<path d="M560.7 144.9L587.5 141.0" stroke-dasharray="7 4" stroke-dashoffset="5.1" stroke-width="1.5"/>
<path d="M549.3 135.7L576.7 132.7" stroke-dasharray="18 4 3 4" stroke-dashoffset="1.9" stroke-width="1.5"/>
<path d="M555.1 192.8L588.2 183.5" stroke-dasharray="7 4" stroke-dashoffset="1.3" stroke-width="1.5"/>
<path d="M555.0 155.1L593.4 150.4" stroke-dasharray="8 6" stroke-dashoffset="0.7" stroke-width="1.5"/>
<path d="M554.9 168.0L571.3 165.1" stroke-dasharray="16 4" stroke-dashoffset="10.0" stroke-width="1.5"/>
<path d="M554.8 184.7L586.9 179.6" stroke-dasharray="7 4" stroke-dashoffset="2.9" stroke-width="1.5"/>
<path d="M549.4 234.4L560.4 229.9" stroke-dasharray="5 5" stroke-dashoffset="3.7" stroke-width="1.5"/>
<path d="M549.4 236.6L565.8 228.8" stroke-dasharray="16 4" stroke-dashoffset="8.5" stroke-width="1.5"/>
<path d="M549.3 161.2L586.1 155.8" stroke-dasharray="16 3 3 3 3 3" stroke-dashoffset="9.5" stroke-width="1.5"/>
<path d="M549.5 140.6L565.9 139.0" stroke-dasharray="4 3" stroke-dashoffset="5.2" stroke-width="1.5"/>
<path d="M566.0 148.2L577.0 146.6" stroke-dasharray="18 4 3 4" stroke-dashoffset="1.1" stroke-width="1.5"/>
<path d="M549.4 254.0L576.8 240.4" stroke-dasharray="18 4 3 4" stroke-dashoffset="0.8" stroke-width="1.5"/>
<path d="M554.9 143.8L576.8 140.9" stroke-dasharray="16 3 3 3 3 3" stroke-dashoffset="5.9" stroke-width="1.5"/>
<path d="M555.1 202.2L582.5 193.0" stroke-dasharray="7 4" stroke-dashoffset="0.8" stroke-width="1.5"/>
<path d="M549.4 203.2L697.3 166.9" stroke-dasharray="5 5" stroke-dashoffset="8.6" stroke-width="1.5"/>
<path d="M554.8 153.1L589.8 146.5" stroke-dasharray="12 3 2.5 3 2.5 3" stroke-dashoffset="4.9" stroke-width="1.5"/>
<path d="M554.9 159.6L586.3 153.6" stroke-dasharray="4 3" stroke-dashoffset="7.6" stroke-width="1.5"/>
<path d="M554.8 223.8L582.2 212.8" stroke-dashoffset="1.8" stroke-width="1.5"/>
<path d="M555.0 149.0L598.9 144.5" stroke-dasharray="7 3 2 3" stroke-dashoffset="11.6" stroke-width="1.5"/>
<path d="M554.9 236.3L576.8 225.9" stroke-dasharray="12 3 2.5 3 2.5 3" stroke-dashoffset="1.5" stroke-width="1.5"/>
<path d="M587.9 184.2L620.8 175.0" stroke-dashoffset="6.4" stroke-width="1.5"/>
<path d="M555.1 211.7L571.5 206.0" stroke-dasharray="7 4" stroke-dashoffset="6.5" stroke-width="1.5"/>
<path d="M560.3 172.0L598.6 163.7" stroke-dasharray="12 3 2.5 3 2.5 3" stroke-dashoffset="8.5" stroke-width="1.5"/>
<path d="M555.0 149.4L598.9 144.7" stroke-dasharray="18 4 3 4" stroke-dashoffset="7.9" stroke-width="1.5"/>
<path d="M554.9 199.6L587.9 190.3" stroke-dasharray="16 4" stroke-dashoffset="6.3" stroke-width="1.5"/>
<path d="M560.4 238.5L653.5 195.9" stroke-dasharray="7 3 2 3" stroke-dashoffset="1.2" stroke-width="1.5"/>
<path d="M549.4 229.5L571.3 221.0" stroke-dasharray="7 3 2 3" stroke-dashoffset="3.5" stroke-width="1.5"/>
<path d="M555.1 158.7L571.5 155.9" stroke-dashoffset="10.2" stroke-width="1.5"/>
<path d="M555.1 184.1L571.5 180.0" stroke-dasharray="12 3 2.5 3" stroke-dashoffset="5.3" stroke-width="1.5"/>
<path d="M554.8 196.2L588.2 185.5" stroke-dasharray="12 3 2.5 3 2.5 3" stroke-dashoffset="1.4" stroke-width="1.5"/>
<path d="M549.6 156.1L566.0 153.7" stroke-dasharray="16 4" stroke-dashoffset="2.4" stroke-width="1.5"/>
<path d="M549.5 231.6L566.0 225.5" stroke-dashoffset="6.9" stroke-width="1.5"/>
<path d="M549.5 223.0L730.3 154.6" stroke-dashoffset="10.8" stroke-width="1.5"/>
<path d="M549.6 250.1L586.7 233.8" stroke-dashoffset="6.2" stroke-width="1.5"/>
<path d="M555.1 174.0L566.0 171.5" stroke-dasharray="16 3 3 3 3 3" stroke-dashoffset="4.6" stroke-width="1.5"/>
<path d="M555.1 198.4L571.6 192.9" stroke-dasharray="12 3 2.5 3" stroke-dashoffset="9.1" stroke-width="1.5"/>
<path d="M560.4 232.2L648.1 193.9" stroke-dasharray="16 4" stroke-dashoffset="1.1" stroke-width="1.5"/>
<path d="M555.0 179.5L598.8 168.6" stroke-dasharray="7 4" stroke-dashoffset="1.2" stroke-width="1.5"/>
<path d="M555.0 153.7L576.9 151.5" stroke-dasharray="12 3 2.5 3 2.5 3" stroke-dashoffset="7.2" stroke-width="1.5"/>
<path d="M555.0 171.4L598.9 161.7" stroke-dasharray="16 3 3 3 3 3" stroke-dashoffset="3.9" stroke-width="1.5"/>
<path d="M554.9 219.9L691.9 160.3" stroke-dasharray="18 4 3 4" stroke-dashoffset="0.0" stroke-width="1.5"/>
<path d="M554.9 255.2L571.4 246.9" stroke-dasharray="12 3 2.5 3 2.5 3" stroke-dashoffset="9.8" stroke-width="1.5"/>
<path d="M560.4 179.1L571.3 176.7" stroke-dasharray="7 4" stroke-dashoffset="5.7" stroke-width="1.5"/>
<path d="M555.1 161.0L589.2 155.0" stroke-dasharray="16 4" stroke-dashoffset="9.2" stroke-width="1.5"/>
<path d="M549.5 225.5L585.9 211.0" stroke-dasharray="12 3 2.5 3" stroke-dashoffset="3.7" stroke-width="1.5"/>
<path d="M555.1 192.4L593.5 180.8" stroke-dasharray="16 4" stroke-dashoffset="1.5" stroke-width="1.5"/>
<path d="M554.8 188.8L588.0 179.5" stroke-dasharray="16 4" stroke-dashoffset="0.4" stroke-width="1.5"/>
<path d="M554.9 242.6L604.2 219.9" stroke-dasharray="7 4" stroke-dashoffset="0.3" stroke-width="1.5"/>
<path d="M549.6 168.2L587.8 160.0" stroke-dasharray="12 3 2.5 3 2.5 3" stroke-dashoffset="10.8" stroke-width="1.5"/>
<path d="M554.8 136.6L588.2 135.0" stroke-dasharray="7 4" stroke-dashoffset="8.4" stroke-width="1.5"/>
<path d="M554.8 174.0L598.7 165.4" stroke-dasharray="7 4" stroke-dashoffset="11.1" stroke-width="1.5"/>
<path d="M549.3 209.8L626.1 189.7" stroke-dasharray="16 4" stroke-dashoffset="7.2" stroke-width="1.5"/>
<path d="M554.9 180.7L609.7 168.6" stroke-dasharray="12 3 2.5 3" stroke-dashoffset="8.9" stroke-width="1.5"/>
<path d="M554.9 168.7L571.4 164.5" stroke-dasharray="5 5" stroke-dashoffset="4.4" stroke-width="1.5"/>
<path d="M549.6 190.8L566.0 186.3" stroke-dasharray="12 3 2.5 3 2.5 3" stroke-dashoffset="6.0" stroke-width="1.5"/>
<path d="M549.6 235.8L566.0 227.9" stroke-dasharray="7 4" stroke-dashoffset="2.5" stroke-width="1.5"/>
<path d="M549.5 202.6L566.0 197.8" stroke-dasharray="12 3 2.5 3" stroke-dashoffset="4.5" stroke-width="1.5"/>
<path d="M554.8 165.9L571.2 162.6" stroke-dasharray="7 4" stroke-dashoffset="6.6" stroke-width="1.5"/>
<path d="M549.6 200.3L582.5 189.8" stroke-dasharray="7 3 2 3" stroke-dashoffset="5.2" stroke-width="1.5"/>
<path d="M549.3 240.1L571.3 231.7" stroke-dasharray="7 4" stroke-dashoffset="3.8" stroke-width="1.5"/>
<path d="M554.8 184.5L585.2 176.5" stroke-dasharray="16 4" stroke-dashoffset="6.5" stroke-width="1.5"/>
<path d="M560.3 188.2L587.2 181.4" stroke-dasharray="5 5" stroke-dashoffset="7.8" stroke-width="1.5"/>
<path d="M560.7 182.9L610.0 168.9" stroke-dasharray="12 3 2.5 3 2.5 3" stroke-dashoffset="4.5" stroke-width="1.5"/>
<path d="M555.1 145.3L585.6 140.8" stroke-dasharray="16 4" stroke-dashoffset="0.7" stroke-width="1.5"/>
<path d="M549.4 229.7L587.9 213.6" stroke-dasharray="7 4" stroke-dashoffset="3.0" stroke-width="1.5"/>
<path d="M555.1 186.4L571.5 181.7" stroke-dasharray="4 3" stroke-dashoffset="10.4" stroke-width="1.5"/>
<path d="M555.0 209.8L571.4 204.5" stroke-dasharray="18 4 3 4" stroke-dashoffset="4.9" stroke-width="1.5"/>
<path d="M554.8 181.5L631.5 163.0" stroke-dasharray="7 3 2 3" stroke-dashoffset="8.1" stroke-width="1.5"/>
<path d="M554.9 191.6L571.3 187.5" stroke-dashoffset="6.7" stroke-width="1.5"/>
<path d="M555.0 194.3L598.8 179.1" stroke-dasharray="12 3 2.5 3 2.5 3" stroke-dashoffset="10.8" stroke-width="1.5"/>
<path d="M555.0 130.0L598.8 127.6" stroke-dasharray="18 4 3 4" stroke-dashoffset="8.6" stroke-width="1.5"/>
<path d="M555.0 164.6L566.0 162.8" stroke-dasharray="7 3 2 3" stroke-dashoffset="8.6" stroke-width="1.5"/>
<path d="M549.3 168.5L588.0 161.2" stroke-dasharray="8 6" stroke-dashoffset="9.7" stroke-width="1.5"/>
<path d="M549.7 209.6L587.3 197.2" stroke-dasharray="7 4" stroke-dashoffset="7.4" stroke-width="1.5"/>
<path d="M560.3 206.6L582.2 198.5" stroke-dasharray="7 3 2 3" stroke-dashoffset="4.6" stroke-width="1.5"/>
<path d="M587.9 160.4L615.3 154.9" stroke-dasharray="16 4" stroke-dashoffset="7.0" stroke-width="1.5"/>
<path d="M565.9 167.7L585.9 163.0" stroke-dasharray="7 4" stroke-dashoffset="7.2" stroke-width="1.5"/>
<path d="M555.1 158.1L587.7 152.9" stroke-dasharray="16 4" stroke-dashoffset="5.3" stroke-width="1.5"/>
<path d="M555.1 174.4L588.6 169.2" stroke-dasharray="12 3 2.5 3" stroke-dashoffset="6.1" stroke-width="1.5"/>
<path d="M555.1 216.1L582.5 206.3" stroke-dasharray="16 4" stroke-dashoffset="6.6" stroke-width="1.5"/>
<path d="M555.2 146.5L586.3 142.8" stroke-dasharray="12 3 2.5 3 2.5 3" stroke-dashoffset="10.1" stroke-width="1.5"/>
<path d="M549.7 210.7L593.5 194.3" stroke-dasharray="16 4" stroke-dashoffset="6.9" stroke-width="1.5"/>
<path d="M560.5 217.5L587.3 208.1" stroke-dasharray="7 3 2 3" stroke-dashoffset="7.0" stroke-width="1.5"/>
<path d="M554.8 171.5L582.2 165.7" stroke-dasharray="4 3" stroke-dashoffset="4.4" stroke-width="1.5"/>
<path d="M549.4 220.7L576.8 210.5" stroke-dasharray="16 4" stroke-dashoffset="10.7" stroke-width="1.5"/>
<path d="M549.6 269.0L566.1 261.3" stroke-dasharray="7 4" stroke-dashoffset="7.8" stroke-width="1.5"/>
<path d="M549.6 194.9L566.1 190.4" stroke-dasharray="7 3 2 3" stroke-dashoffset="2.1" stroke-width="1.5"/>
<path d="M560.3 172.9L589.4 167.2" stroke-dasharray="18 4 3 4" stroke-dashoffset="0.5" stroke-width="1.5"/>
<path d="M549.5 241.8L576.9 228.7" stroke-dasharray="18 4 3 4" stroke-dashoffset="7.9" stroke-width="1.5"/>
<path d="M554.8 181.9L576.8 177.2" stroke-dasharray="7 4" stroke-dashoffset="5.6" stroke-width="1.5"/>
<path d="M555.1 168.5L615.3 159.8" stroke-dasharray="5 5" stroke-dashoffset="5.5" stroke-width="1.5"/>
<path d="M582.5 187.8L599.0 182.6" stroke-dasharray="7 4" stroke-dashoffset="10.7" stroke-width="1.5"/>
<path d="M560.5 186.5L708.4 150.7" stroke-dasharray="12 3 2.5 3" stroke-dashoffset="3.6" stroke-width="1.5"/>
<path d="M549.5 182.9L560.4 180.6" stroke-dasharray="16 3 3 3 3 3" stroke-dashoffset="4.5" stroke-width="1.5"/>
<path d="M549.4 241.9L576.8 230.1" stroke-dasharray="7 4" stroke-dashoffset="1.1" stroke-width="1.5"/>
<path d="M549.5 166.5L588.6 159.2" stroke-dasharray="16 4" stroke-dashoffset="0.3" stroke-width="1.5"/>
<path d="M555.0 215.7L604.3 195.7" stroke-dasharray="7 4" stroke-dashoffset="5.6" stroke-width="1.5"/>
<path d="M549.7 160.5L577.1 156.2" stroke-dasharray="4 3" stroke-dashoffset="9.7" stroke-width="1.5"/>
<path d="M571.4 171.4L587.4 167.1" stroke-dasharray="16 3 3 3 3 3" stroke-dashoffset="3.1" stroke-width="1.5"/>
<path d="M555.0 184.5L585.4 178.3" stroke-dasharray="16 4" stroke-dashoffset="8.3" stroke-width="1.5"/>
<path d="M555.1 153.3L589.1 148.2" stroke-dasharray="4 3" stroke-dashoffset="11.4" stroke-width="1.5"/>
<path d="M555.0 258.6L588.1 241.0" stroke-dasharray="16 4" stroke-dashoffset="0.8" stroke-width="1.5"/>
<path d="M555.0 225.4L587.6 212.4" stroke-dashoffset="7.0" stroke-width="1.5"/>
<path d="M554.9 174.3L582.3 168.8" stroke-dasharray="12 3 2.5 3 2.5 3" stroke-dashoffset="0.4" stroke-width="1.5"/>
<path d="M555.2 184.6L653.8 165.2" stroke-dasharray="7 3 2 3" stroke-dashoffset="8.4" stroke-width="1.5"/>
<path d="M555.0 119.6L586.8 119.0" stroke-dasharray="16 4" stroke-dashoffset="6.0" stroke-width="1.5"/>
<path d="M549.6 152.7L577.0 149.3" stroke-dasharray="7 4" stroke-dashoffset="7.2" stroke-width="1.5"/>
<path d="M560.7 194.9L648.3 168.9" stroke-dasharray="12 3 2.5 3" stroke-dashoffset="8.0" stroke-width="1.5"/>
<path d="M560.4 185.9L576.8 181.4" stroke-dasharray="16 3 3 3 3 3" stroke-dashoffset="9.1" stroke-width="1.5"/>
<path d="M555.2 176.1L599.0 163.5" stroke-dashoffset="5.2" stroke-width="1.5"/>
<path d="M554.8 199.2L576.8 191.9" stroke-dasharray="7 4" stroke-dashoffset="0.5" stroke-width="1.5"/>
<path d="M549.6 203.7L593.4 189.2" stroke-dasharray="7 4" stroke-dashoffset="9.6" stroke-width="1.5"/>
<path d="M555.1 180.2L586.9 171.0" stroke-dasharray="12 3 2.5 3 2.5 3" stroke-dashoffset="7.4" stroke-width="1.5"/>
<path d="M560.3 212.9L680.9 162.3" stroke-dasharray="7 3 2 3" stroke-dashoffset="2.1" stroke-width="1.5"/>
<path d="M566.0 208.7L609.8 194.3" stroke-dasharray="16 4" stroke-dashoffset="2.0" stroke-width="1.5"/>
<path d="M555.2 181.9L587.9 174.7" stroke-dasharray="7 4" stroke-dashoffset="11.2" stroke-width="1.5"/>
<path d="M560.6 139.1L599.0 133.4" stroke-dasharray="16 4" stroke-dashoffset="2.6" stroke-width="1.5"/>
<path d="M549.3 218.1L647.9 183.5" stroke-dasharray="16 4" stroke-dashoffset="10.8" stroke-width="1.5"/>
<path d="M555.1 185.3L587.1 179.7" stroke-dasharray="7 4" stroke-dashoffset="3.8" stroke-width="1.5"/>
<path d="M560.5 201.8L576.9 196.4" stroke-dasharray="12 3 2.5 3 2.5 3" stroke-dashoffset="10.7" stroke-width="1.5"/>
<path d="M554.8 204.9L648.0 176.8" stroke-dasharray="12 3 2.5 3" stroke-dashoffset="3.9" stroke-width="1.5"/>
<path d="M555.1 230.9L587.2 216.5" stroke-dasharray="18 4 3 4" stroke-dashoffset="10.6" stroke-width="1.5"/>
<path d="M554.8 147.0L588.7 142.6" stroke-dasharray="18 4 3 4" stroke-dashoffset="7.5" stroke-width="1.5"/>
<path d="M555.0 181.7L576.9 176.1" stroke-dasharray="7 3 2 3" stroke-dashoffset="6.4" stroke-width="1.5"/>
<path d="M554.9 155.3L576.8 151.7" stroke-dasharray="12 3 2.5 3" stroke-dashoffset="2.3" stroke-width="1.5"/>
<path d="M555.0 214.7L587.8 204.5" stroke-dasharray="7 3 2 3" stroke-dashoffset="10.4" stroke-width="1.5"/>
<path d="M549.5 171.1L565.9 167.9" stroke-dasharray="18 4 3 4" stroke-dashoffset="2.3" stroke-width="1.5"/>
<path d="M560.6 222.4L593.5 208.6" stroke-dasharray="16 4" stroke-dashoffset="11.1" stroke-width="1.5"/>
<path d="M554.9 174.7L582.3 169.7" stroke-dasharray="5 5" stroke-dashoffset="11.1" stroke-width="1.5"/>
<path d="M549.7 242.8L587.4 224.4" stroke-dashoffset="3.3" stroke-width="1.5"/>
<path d="M560.6 187.0L571.6 183.5" stroke-dasharray="18 4 3 4" stroke-dashoffset="8.7" stroke-width="1.5"/>
<path d="M549.6 205.1L587.5 194.0" stroke-dasharray="12 3 2.5 3 2.5 3" stroke-dashoffset="6.9" stroke-width="1.5"/>
<path d="M554.9 236.0L582.3 224.4" stroke-dasharray="7 3 2 3" stroke-dashoffset="9.1" stroke-width="1.5"/>
<path d="M555.0 201.6L587.6 191.6" stroke-dasharray="7 4" stroke-dashoffset="6.5" stroke-width="1.5"/>
<path d="M555.0 168.7L571.4 164.1" stroke-dashoffset="9.8" stroke-width="1.5"/>
<path d="M549.4 174.8L571.3 170.7" stroke-dasharray="7 4" stroke-dashoffset="4.9" stroke-width="1.5"/>
<path d="M549.4 209.8L582.3 199.2" stroke-dasharray="12 3 2.5 3 2.5 3" stroke-dashoffset="0.8" stroke-width="1.5"/>
<path d="M549.3 202.8L560.3 199.4" stroke-dasharray="8 6" stroke-dashoffset="4.8" stroke-width="1.5"/>
<path d="M587.7 172.8L626.1 164.6" stroke-dasharray="12 3 2.5 3 2.5 3" stroke-dashoffset="9.1" stroke-width="1.5"/>
<path d="M560.6 205.0L587.2 197.6" stroke-dasharray="12 3 2.5 3" stroke-dashoffset="6.4" stroke-width="1.5"/>
<path d="M554.9 151.6L565.8 150.4" stroke-dasharray="7 3 2 3" stroke-dashoffset="8.3" stroke-width="1.5"/>
<path d="M555.0 199.1L587.8 188.4" stroke-dasharray="7 4" stroke-dashoffset="9.1" stroke-width="1.5"/>
<path d="M593.2 202.3L669.9 173.5" stroke-dasharray="5 5" stroke-dashoffset="0.4" stroke-width="1.5"/>
<path d="M554.9 181.2L593.3 172.4" stroke-dasharray="7 3 2 3" stroke-dashoffset="11.8" stroke-width="1.5"/>
<path d="M555.1 226.4L571.5 220.7" stroke-dasharray="8 6" stroke-dashoffset="9.2" stroke-width="1.5"/>
<path d="M555.0 185.2L593.4 175.8" stroke-dasharray="4 3" stroke-dashoffset="11.9" stroke-width="1.5"/>
<path d="M555.1 135.5L588.2 133.9" stroke-dasharray="12 3 2.5 3" stroke-dashoffset="1.4" stroke-width="1.5"/>
<path d="M549.4 158.9L571.3 155.9" stroke-dasharray="7 3 2 3" stroke-dashoffset="11.3" stroke-width="1.5"/>
<path d="M555.0 209.6L664.6 172.0" stroke-dasharray="12 3 2.5 3 2.5 3" stroke-dashoffset="2.8" stroke-width="1.5"/>
<path d="M549.4 216.6L576.8 208.8" stroke-dasharray="12 3 2.5 3" stroke-dashoffset="0.2" stroke-width="1.5"/>
<path d="M554.8 171.3L587.9 164.0" stroke-dasharray="12 3 2.5 3" stroke-dashoffset="1.0" stroke-width="1.5"/>
<path d="M555.0 189.2L587.4 180.5" stroke-dasharray="12 3 2.5 3" stroke-dashoffset="6.7" stroke-width="1.5"/>
<path d="M549.7 177.5L560.6 175.0" stroke-dasharray="4 3" stroke-dashoffset="10.6" stroke-width="1.5"/>
<path d="M549.5 206.8L576.9 198.3" stroke-dasharray="4 3" stroke-dashoffset="8.0" stroke-width="1.5"/>
<path d="M554.8 190.4L565.8 187.1" stroke-dasharray="12 3 2.5 3 2.5 3" stroke-dashoffset="1.4" stroke-width="1.5"/>
<path d="M555.1 191.4L604.4 179.4" stroke-dasharray="4 3" stroke-dashoffset="7.0" stroke-width="1.5"/>
<path d="M555.1 148.1L593.5 144.1" stroke-dashoffset="11.6" stroke-width="1.5"/>
<path d="M555.2 164.3L593.5 158.9" stroke-dasharray="16 4" stroke-dashoffset="9.2" stroke-width="1.5"/>
<path d="M555.0 158.4L576.9 155.7" stroke-dasharray="16 4" stroke-dashoffset="4.9" stroke-width="1.5"/>
<path d="M571.5 138.7L609.9 133.9" stroke-dashoffset="2.3" stroke-width="1.5"/>
<path d="M555.0 164.6L587.4 158.7" stroke-dasharray="16 3 3 3 3 3" stroke-dashoffset="1.0" stroke-width="1.5"/>
<path d="M554.8 207.5L626.0 182.9" stroke-dasharray="16 4" stroke-dashoffset="7.9" stroke-width="1.5"/>
<path d="M549.5 232.7L566.0 225.5" stroke-dasharray="4 3" stroke-dashoffset="2.9" stroke-width="1.5"/>
<path d="M554.9 199.5L576.8 192.7" stroke-dashoffset="5.2" stroke-width="1.5"/>
<path d="M593.5 180.3L585.9 182.2" stroke-dasharray="8 6" stroke-dashoffset="1.6" stroke-width="1.5"/>
<path d="M554.9 161.4L615.2 152.5" stroke-dasharray="16 4" stroke-dashoffset="2.9" stroke-width="1.5"/>
<path d="M555.1 200.2L582.5 191.1" stroke-dasharray="7 4" stroke-dashoffset="2.6" stroke-width="1.5"/>
<path d="M554.8 176.2L626.1 159.7" stroke-dasharray="16 3 3 3 3 3" stroke-dashoffset="8.4" stroke-width="1.5"/>
<path d="M555.1 210.5L586.2 199.9" stroke-dasharray="5 5" stroke-dashoffset="5.6" stroke-width="1.5"/>
<path d="M554.9 193.2L648.1 165.4" stroke-dasharray="7 3 2 3" stroke-dashoffset="1.3" stroke-width="1.5"/>
<path d="M555.1 209.0L637.3 177.9" stroke-dasharray="16 3 3 3 3 3" stroke-dashoffset="3.2" stroke-width="1.5"/>
<path d="M554.8 194.9L587.4 185.3" stroke-dasharray="16 4" stroke-dashoffset="5.2" stroke-width="1.5"/>
<path d="M555.0 178.7L589.8 168.5" stroke-dashoffset="3.9" stroke-width="1.5"/>
<path d="M554.8 189.2L587.9 181.5" stroke-dashoffset="11.3" stroke-width="1.5"/>
<path d="M554.8 187.1L571.2 183.5" stroke-dasharray="8 6" stroke-dashoffset="10.5" stroke-width="1.5"/>
<path d="M549.4 186.7L587.8 175.5" stroke-dasharray="12 3 2.5 3 2.5 3" stroke-dashoffset="1.4" stroke-width="1.5"/>
<path d="M555.0 247.1L565.9 242.0" stroke-dasharray="5 5" stroke-dashoffset="5.3" stroke-width="1.5"/>
<path d="M565.8 209.9L587.6 202.4" stroke-dasharray="4 3" stroke-dashoffset="6.0" stroke-width="1.5"/>
<path d="M555.0 257.0L589.6 239.9" stroke-dasharray="16 4" stroke-dashoffset="9.8" stroke-width="1.5"/>
<path d="M555.2 206.9L566.1 203.5" stroke-dasharray="18 4 3 4" stroke-dashoffset="11.2" stroke-width="1.5"/>
<path d="M560.4 187.7L576.9 183.1" stroke-dasharray="12 3 2.5 3" stroke-dashoffset="6.4" stroke-width="1.5"/>
<path d="M549.7 247.7L566.1 239.8" stroke-dasharray="8 6" stroke-dashoffset="5.3" stroke-width="1.5"/>
<path d="M554.8 160.0L576.8 155.6" stroke-dasharray="18 4 3 4" stroke-dashoffset="9.8" stroke-width="1.5"/>
<path d="M582.5 211.5L637.3 192.1" stroke-dasharray="7 4" stroke-dashoffset="4.0" stroke-width="1.5"/>
<path d="M560.3 242.8L669.9 189.7" stroke-dasharray="7 3 2 3" stroke-dashoffset="6.2" stroke-width="1.5"/>
<path d="M555.2 156.6L593.5 150.7" stroke-dasharray="7 4" stroke-dashoffset="0.8" stroke-width="1.5"/>
<path d="M560.5 164.0L576.9 160.5" stroke-dasharray="12 3 2.5 3" stroke-dashoffset="9.9" stroke-width="1.5"/>
<path d="M554.8 203.0L585.4 193.2" stroke-dashoffset="2.0" stroke-width="1.5"/>
<path d="M560.5 189.3L576.9 184.1" stroke-dasharray="7 4" stroke-dashoffset="9.0" stroke-width="1.5"/>
<path d="M588.1 138.2L626.4 134.3" stroke-dasharray="7 4" stroke-dashoffset="3.6" stroke-width="1.5"/>
<path d="M560.7 162.6L593.5 155.6" stroke-dasharray="12 3 2.5 3" stroke-dashoffset="3.3" stroke-width="1.5"/>
<path d="M554.8 167.5L576.7 162.6" stroke-dasharray="12 3 2.5 3" stroke-dashoffset="3.0" stroke-width="1.5"/>
<path d="M555.0 199.1L587.9 189.9" stroke-dasharray="7 4" stroke-dashoffset="0.4" stroke-width="1.5"/>
<path d="M549.7 191.7L582.6 182.3" stroke-dasharray="7 4" stroke-dashoffset="0.5" stroke-width="1.5"/>
<path d="M554.8 133.7L586.2 129.9" stroke-dasharray="12 3 2.5 3" stroke-dashoffset="9.8" stroke-width="1.5"/>
<path d="M554.8 241.0L571.3 234.1" stroke-dasharray="7 4" stroke-dashoffset="1.6" stroke-width="1.5"/>
<path d="M549.5 183.5L576.9 176.0" stroke-dasharray="18 4 3 4" stroke-dashoffset="4.4" stroke-width="1.5"/>
<path d="M555.0 191.3L582.4 183.7" stroke-dasharray="16 3 3 3 3 3" stroke-dashoffset="6.9" stroke-width="1.5"/>
<path d="M549.7 170.8L577.1 164.8" stroke-dasharray="7 4" stroke-dashoffset="1.2" stroke-width="1.5"/>
<path d="M549.7 236.6L566.1 229.5" stroke-dasharray="16 4" stroke-dashoffset="4.5" stroke-width="1.5"/>
<path d="M560.4 157.9L582.4 154.5" stroke-dasharray="12 3 2.5 3 2.5 3" stroke-dashoffset="8.5" stroke-width="1.5"/>
<path d="M549.6 176.2L577.0 168.9" stroke-dasharray="16 4" stroke-dashoffset="4.4" stroke-width="1.5"/>
<path d="M560.4 223.3L588.4 212.0" stroke-dashoffset="0.5" stroke-width="1.5"/>
<path d="M565.9 171.2L576.9 169.6" stroke-dasharray="4 3" stroke-dashoffset="1.2" stroke-width="1.5"/>
<path d="M555.1 202.4L582.5 193.0" stroke-dashoffset="8.7" stroke-width="1.5"/>
<path d="M549.7 234.9L642.8 198.9" stroke-dasharray="16 4" stroke-dashoffset="4.8" stroke-width="1.5"/>
<path d="M582.5 167.6L620.8 161.3" stroke-dasharray="7 3 2 3" stroke-dashoffset="11.1" stroke-width="1.5"/>
<path d="M549.5 186.1L571.5 181.1" stroke-dasharray="16 3 3 3 3 3" stroke-dashoffset="0.1" stroke-width="1.5"/>
<path d="M555.1 206.4L586.7 196.9" stroke-dasharray="18 4 3 4" stroke-dashoffset="4.5" stroke-width="1.5"/>
<path d="M549.3 264.7L586.7 246.7" stroke-dasharray="12 3 2.5 3" stroke-dashoffset="7.9" stroke-width="1.5"/>
<path d="M555.1 185.2L637.3 163.1" stroke-dasharray="7 4" stroke-dashoffset="7.2" stroke-width="1.5"/>
<path d="M582.5 231.4L593.5 226.5" stroke-dasharray="18 4 3 4" stroke-dashoffset="11.0" stroke-width="1.5"/>
<path d="M554.9 165.0L576.8 161.1" stroke-dasharray="12 3 2.5 3" stroke-dashoffset="0.7" stroke-width="1.5"/>
<path d="M555.0 173.7L589.8 165.4" stroke-dasharray="8 6" stroke-dashoffset="2.0" stroke-width="1.5"/>
<path d="M554.8 221.7L615.1 197.7" stroke-dasharray="16 3 3 3 3 3" stroke-dashoffset="10.3" stroke-width="1.5"/>
<path d="M560.5 219.3L598.8 205.1" stroke-dasharray="16 4" stroke-dashoffset="3.9" stroke-width="1.5"/>
<path d="M549.6 232.5L653.7 191.7" stroke-dasharray="12 3 2.5 3 2.5 3" stroke-dashoffset="10.9" stroke-width="1.5"/>
<path d="M555.2 173.9L586.3 165.6" stroke-dasharray="7 4" stroke-dashoffset="11.8" stroke-width="1.5"/>
<path d="M554.8 166.2L576.7 162.2" stroke-dasharray="7 4" stroke-dashoffset="0.3" stroke-width="1.5"/>
<path d="M554.9 170.7L598.8 163.0" stroke-dasharray="18 4 3 4" stroke-dashoffset="10.5" stroke-width="1.5"/>
<path d="M549.5 219.3L576.9 209.8" stroke-dasharray="4 3" stroke-dashoffset="6.6" stroke-width="1.5"/>
<path d="M554.9 186.3L571.4 181.9" stroke-dasharray="16 4" stroke-dashoffset="1.7" stroke-width="1.5"/>
<path d="M555.0 254.5L631.7 218.1" stroke-dasharray="12 3 2.5 3" stroke-dashoffset="11.2" stroke-width="1.5"/>
<path d="M555.1 216.6L586.5 202.7" stroke-dasharray="4 3" stroke-dashoffset="1.0" stroke-width="1.5"/>
<path d="M560.3 257.2L658.9 203.6" stroke-dasharray="12 3 2.5 3 2.5 3" stroke-dashoffset="2.2" stroke-width="1.5"/>
<path d="M554.8 196.2L588.5 187.6" stroke-dasharray="12 3 2.5 3" stroke-dashoffset="5.3" stroke-width="1.5"/>
<path d="M555.1 203.1L577.0 196.3" stroke-dashoffset="5.2" stroke-width="1.5"/>
<path d="M582.6 187.6L599.0 182.7" stroke-dasharray="4 3" stroke-dashoffset="2.7" stroke-width="1.5"/>
<path d="M549.4 250.0L576.8 236.6" stroke-dasharray="12 3 2.5 3 2.5 3" stroke-dashoffset="4.6" stroke-width="1.5"/>
<path d="M554.8 191.8L582.2 184.2" stroke-dasharray="16 4" stroke-dashoffset="9.0" stroke-width="1.5"/>
<path d="M549.5 181.0L582.4 173.2" stroke-dasharray="16 4" stroke-dashoffset="10.4" stroke-width="1.5"/>
<path d="M549.3 235.3L582.2 220.3" stroke-dasharray="7 4" stroke-dashoffset="3.9" stroke-width="1.5"/>
<path d="M554.9 198.8L598.7 183.6" stroke-dasharray="18 4 3 4" stroke-dashoffset="6.5" stroke-width="1.5"/>
<path d="M555.1 156.8L566.1 153.8" stroke-dasharray="16 4" stroke-dashoffset="5.7" stroke-width="1.5"/>
<path d="M571.2 194.2L582.2 191.0" stroke-dasharray="7 4" stroke-dashoffset="11.3" stroke-width="1.5"/>
<path d="M554.9 210.3L587.1 199.3" stroke-dasharray="12 3 2.5 3" stroke-dashoffset="2.4" stroke-width="1.5"/>
<path d="M576.7 225.4L586.1 221.2" stroke-dasharray="16 4" stroke-dashoffset="0.3" stroke-width="1.5"/>
<path d="M560.6 120.8L582.5 119.3" stroke-dasharray="16 3 3 3 3 3" stroke-dashoffset="8.8" stroke-width="1.5"/>
<path d="M549.6 158.0L571.6 154.1" stroke-dasharray="7 4" stroke-dashoffset="5.6" stroke-width="1.5"/>
<path d="M549.6 228.7L585.9 212.8" stroke-dasharray="7 4" stroke-dashoffset="5.0" stroke-width="1.5"/>
<path d="M560.6 205.7L609.9 190.2" stroke-dashoffset="4.7" stroke-width="1.5"/>
<path d="M555.2 191.3L587.0 181.9" stroke-dasharray="8 6" stroke-dashoffset="11.8" stroke-width="1.5"/>
<path d="M560.5 210.0L730.4 152.9" stroke-dasharray="16 3 3 3 3 3" stroke-dashoffset="11.6" stroke-width="1.5"/>
<path d="M549.4 211.6L587.8 196.6" stroke-dasharray="18 4 3 4" stroke-dashoffset="8.0" stroke-width="1.5"/>
<path d="M549.4 219.8L675.5 175.8" stroke-dasharray="7 3 2 3" stroke-dashoffset="8.4" stroke-width="1.5"/>
<path d="M560.6 173.4L585.2 168.0" stroke-dasharray="16 4" stroke-dashoffset="4.6" stroke-width="1.5"/>
<path d="M555.0 152.3L565.9 150.8" stroke-dashoffset="8.7" stroke-width="1.5"/>
<path d="M555.0 198.0L576.9 191.2" stroke-dasharray="7 4" stroke-dashoffset="7.7" stroke-width="1.5"/>
<path d="M593.2 175.8L620.6 168.4" stroke-dasharray="7 3 2 3" stroke-dashoffset="3.6" stroke-width="1.5"/>
<path d="M555.1 201.8L588.5 191.3" stroke-dasharray="8 6" stroke-dashoffset="11.8" stroke-width="1.5"/>
<path d="M549.4 156.1L587.0 150.0" stroke-dasharray="7 3 2 3" stroke-dashoffset="1.9" stroke-width="1.5"/>
<path d="M560.5 178.2L609.8 167.4" stroke-dasharray="12 3 2.5 3" stroke-dashoffset="4.3" stroke-width="1.5"/>
<path d="M560.6 133.3L571.5 131.9" stroke-dasharray="4 3" stroke-dashoffset="1.0" stroke-width="1.5"/>
<path d="M560.5 200.0L604.3 188.4" stroke-dashoffset="3.8" stroke-width="1.5"/>
<path d="M555.0 202.9L566.0 200.0" stroke-dashoffset="2.3" stroke-width="1.5"/>
<path d="M549.7 222.3L588.2 208.6" stroke-dasharray="16 4" stroke-dashoffset="10.3" stroke-width="1.5"/>
<path d="M555.2 218.6L571.6 212.4" stroke-dasharray="18 4 3 4" stroke-dashoffset="4.9" stroke-width="1.5"/>
<path d="M555.1 191.5L587.2 183.9" stroke-dasharray="5 5" stroke-dashoffset="10.2" stroke-width="1.5"/>
<path d="M554.8 165.1L571.3 161.7" stroke-dasharray="16 4" stroke-dashoffset="5.6" stroke-width="1.5"/>
<path d="M555.2 175.8L588.6 170.5" stroke-dasharray="16 3 3 3 3 3" stroke-dashoffset="1.1" stroke-width="1.5"/>
<path d="M549.6 198.3L571.5 191.8" stroke-dasharray="8 6" stroke-dashoffset="4.7" stroke-width="1.5"/>
<path d="M560.7 190.9L588.1 184.3" stroke-dasharray="8 6" stroke-dashoffset="9.6" stroke-width="1.5"/>
<path d="M554.9 141.4L626.1 135.0" stroke-dasharray="7 3 2 3" stroke-dashoffset="2.7" stroke-width="1.5"/>
<path d="M555.1 188.6L598.9 178.0" stroke-dasharray="18 4 3 4" stroke-dashoffset="9.6" stroke-width="1.5"/>
<path d="M555.2 202.0L587.9 190.8" stroke-dasharray="7 3 2 3" stroke-dashoffset="2.0" stroke-width="1.5"/>
<path d="M554.8 173.8L686.3 148.4" stroke-dasharray="12 3 2.5 3" stroke-dashoffset="6.4" stroke-width="1.5"/>
<path d="M549.5 157.0L675.6 134.6" stroke-dasharray="12 3 2.5 3 2.5 3" stroke-dashoffset="9.3" stroke-width="1.5"/>
<path d="M555.1 183.1L609.9 172.0" stroke-dasharray="12 3 2.5 3 2.5 3" stroke-dashoffset="4.6" stroke-width="1.5"/>
<path d="M555.2 114.3L586.6 114.9" stroke-dasharray="12 3 2.5 3 2.5 3" stroke-dashoffset="8.3" stroke-width="1.5"/>
<path d="M577.1 153.5L599.0 149.8" stroke-dasharray="7 4" stroke-dashoffset="4.4" stroke-width="1.5"/>
<path d="M549.4 229.1L586.9 215.2" stroke-dasharray="16 4" stroke-dashoffset="11.4" stroke-width="1.5"/>
<path d="M588.0 211.9L620.9 200.7" stroke-dasharray="7 3 2 3" stroke-dashoffset="0.9" stroke-width="1.5"/>
<path d="M560.6 178.7L588.4 173.3" stroke-dasharray="4 3" stroke-dashoffset="6.9" stroke-width="1.5"/>
<path d="M555.0 158.1L587.3 151.5" stroke-dasharray="8 6" stroke-dashoffset="2.8" stroke-width="1.5"/>
<path d="M549.4 173.6L604.2 165.6" stroke-dasharray="16 3 3 3 3 3" stroke-dashoffset="2.0" stroke-width="1.5"/>
<path d="M555.0 156.4L587.8 150.2" stroke-dasharray="8 6" stroke-dashoffset="9.4" stroke-width="1.5"/>
<path d="M566.1 170.3L593.5 164.8" stroke-dasharray="12 3 2.5 3" stroke-dashoffset="9.4" stroke-width="1.5"/>
<path d="M555.2 153.4L599.0 146.9" stroke-dasharray="7 4" stroke-dashoffset="1.3" stroke-width="1.5"/>
<path d="M554.9 190.4L593.2 179.2" stroke-dasharray="16 4" stroke-dashoffset="5.8" stroke-width="1.5"/>
<path d="M582.3 145.6L586.9 145.1" stroke-dasharray="16 4" stroke-dashoffset="7.8" stroke-width="1.5"/>
<path d="M554.8 240.5L585.7 226.1" stroke-dasharray="7 4" stroke-dashoffset="1.2" stroke-width="1.5"/>
<path d="M555.1 185.3L586.9 177.0" stroke-dashoffset="2.8" stroke-width="1.5"/>
<path d="M549.4 194.8L589.1 182.5" stroke-dasharray="4 3" stroke-dashoffset="7.2" stroke-width="1.5"/>
<path d="M549.5 166.8L587.9 160.8" stroke-dashoffset="11.5" stroke-width="1.5"/>
<path d="M554.9 161.4L571.3 158.7" stroke-dasharray="16 4" stroke-dashoffset="9.9" stroke-width="1.5"/>
<path d="M555.0 163.5L588.1 157.3" stroke-dashoffset="1.0" stroke-width="1.5"/>
<path d="M555.0 169.3L598.8 161.0" stroke-dasharray="16 4" stroke-dashoffset="10.9" stroke-width="1.5"/>
<path d="M549.6 187.2L577.0 179.3" stroke-dashoffset="7.0" stroke-width="1.5"/>
<path d="M554.8 187.4L576.7 181.8" stroke-dasharray="16 4" stroke-dashoffset="6.0" stroke-width="1.5"/>
<path d="M549.3 232.1L615.1 205.4" stroke-dasharray="7 3 2 3" stroke-dashoffset="2.9" stroke-width="1.5"/>
<path d="M555.1 156.6L577.0 153.2" stroke-dasharray="16 4" stroke-dashoffset="7.6" stroke-width="1.5"/>
<path d="M554.9 221.4L588.0 207.3" stroke-dasharray="12 3 2.5 3 2.5 3" stroke-dashoffset="2.8" stroke-width="1.5"/>
<path d="M554.8 186.1L588.1 175.5" stroke-dasharray="7 3 2 3" stroke-dashoffset="11.1" stroke-width="1.5"/>
<path d="M555.0 230.8L585.2 218.1" stroke-dasharray="7 3 2 3" stroke-dashoffset="4.7" stroke-width="1.5"/>
<path d="M549.3 241.9L571.2 232.5" stroke-dasharray="4 3" stroke-dashoffset="9.1" stroke-width="1.5"/>
<path d="M555.0 137.6L586.3 134.1" stroke-dasharray="7 3 2 3" stroke-dashoffset="6.2" stroke-width="1.5"/>
<path d="M555.1 158.1L588.6 154.1" stroke-dasharray="16 3 3 3 3 3" stroke-dashoffset="11.5" stroke-width="1.5"/>
<path d="M593.3 238.5L604.2 233.4" stroke-dasharray="16 4" stroke-dashoffset="11.2" stroke-width="1.5"/>
<path d="M555.2 212.6L571.6 207.6" stroke-dasharray="5 5" stroke-dashoffset="4.0" stroke-width="1.5"/>
<path d="M549.6 188.1L560.5 184.8" stroke-dasharray="16 4" stroke-dashoffset="6.5" stroke-width="1.5"/>
<path d="M549.6 190.1L589.0 177.5" stroke-dasharray="7 4" stroke-dashoffset="5.9" stroke-width="1.5"/>
<path d="M555.0 201.6L582.4 192.9" stroke-dasharray="8 6" stroke-dashoffset="6.5" stroke-width="1.5"/>
<path d="M554.9 173.5L586.1 166.8" stroke-dasharray="5 5" stroke-dashoffset="7.6" stroke-width="1.5"/>
<path d="M549.7 151.3L620.9 138.0" stroke-dasharray="5 5" stroke-dashoffset="8.0" stroke-width="1.5"/>
<path d="M554.8 162.8L593.2 160.0" stroke-dasharray="16 4" stroke-dashoffset="9.8" stroke-width="1.5"/>
<path d="M549.7 188.2L571.6 181.9" stroke-dasharray="7 4" stroke-dashoffset="10.9" stroke-width="1.5"/>
<path d="M560.4 158.0L593.3 151.2" stroke-dasharray="16 4" stroke-dashoffset="11.8" stroke-width="1.5"/>
<path d="M560.6 172.3L586.8 166.9" stroke-dasharray="12 3 2.5 3 2.5 3" stroke-dashoffset="4.3" stroke-width="1.5"/>
<path d="M555.0 223.9L586.9 209.5" stroke-dasharray="12 3 2.5 3 2.5 3" stroke-dashoffset="0.9" stroke-width="1.5"/>
<path d="M555.1 144.8L587.1 141.2" stroke-dasharray="16 4" stroke-dashoffset="10.8" stroke-width="1.5"/>
<path d="M554.8 256.3L593.2 236.7" stroke-dasharray="5 5" stroke-dashoffset="2.9" stroke-width="1.5"/>
<path d="M560.5 219.4L577.0 213.3" stroke-dasharray="16 3 3 3 3 3" stroke-dashoffset="11.4" stroke-width="1.5"/>
<path d="M555.0 180.8L615.3 162.6" stroke-dashoffset="9.4" stroke-width="1.5"/>
<path d="M555.0 207.6L587.3 196.4" stroke-dashoffset="2.3" stroke-width="1.5"/>
<path d="M555.1 144.6L587.7 139.7" stroke-dasharray="5 5" stroke-dashoffset="1.6" stroke-width="1.5"/>
<path d="M555.1 162.3L703.1 124.1" stroke-dasharray="7 4" stroke-dashoffset="2.1" stroke-width="1.5"/>
<path d="M560.6 174.5L593.5 166.3" stroke-dashoffset="5.6" stroke-width="1.5"/>
<path d="M555.2 194.8L599.0 181.8" stroke-dasharray="7 4" stroke-dashoffset="5.5" stroke-width="1.5"/>
<path d="M555.0 111.9L588.4 112.1" stroke-dasharray="18 4 3 4" stroke-dashoffset="0.5" stroke-width="1.5"/>
<path d="M560.5 226.8L714.0 168.6" stroke-dasharray="12 3 2.5 3" stroke-dashoffset="6.0" stroke-width="1.5"/>
<path d="M554.9 186.8L585.3 179.4" stroke-dasharray="7 4" stroke-dashoffset="2.3" stroke-width="1.5"/>
<path d="M555.1 192.9L598.9 182.4" stroke-dasharray="12 3 2.5 3" stroke-dashoffset="11.0" stroke-width="1.5"/>
<path d="M549.7 193.3L582.5 184.5" stroke-dasharray="12 3 2.5 3 2.5 3" stroke-dashoffset="3.5" stroke-width="1.5"/>
<path d="M555.0 193.2L587.7 183.6" stroke-dasharray="7 4" stroke-dashoffset="4.2" stroke-width="1.5"/>
<path d="M554.9 226.0L626.1 199.7" stroke-dasharray="8 6" stroke-dashoffset="8.2" stroke-width="1.5"/>
<path d="M560.5 167.7L593.4 159.6" stroke-dasharray="16 3 3 3 3 3" stroke-dashoffset="6.5" stroke-width="1.5"/>
<path d="M555.2 220.6L566.1 216.6" stroke-dasharray="12 3 2.5 3 2.5 3" stroke-dashoffset="3.7" stroke-width="1.5"/>
<path d="M549.6 269.7L588.0 249.3" stroke-dasharray="12 3 2.5 3 2.5 3" stroke-dashoffset="11.5" stroke-width="1.5"/>
<path d="M560.3 233.4L589.5 220.3" stroke-dasharray="16 4" stroke-dashoffset="3.2" stroke-width="1.5"/>
<path d="M555.0 156.7L571.5 153.9" stroke-dasharray="12 3 2.5 3" stroke-dashoffset="10.4" stroke-width="1.5"/>
<path d="M549.5 226.5L589.4 210.4" stroke-dasharray="16 3 3 3 3 3" stroke-dashoffset="1.9" stroke-width="1.5"/>
<path d="M555.2 143.8L582.6 140.8" stroke-dasharray="4 3" stroke-dashoffset="9.6" stroke-width="1.5"/>
<path d="M549.3 201.0L576.7 191.5" stroke-dasharray="16 4" stroke-dashoffset="6.2" stroke-width="1.5"/>
<path d="M554.8 245.3L582.2 232.2" stroke-dasharray="12 3 2.5 3 2.5 3" stroke-dashoffset="0.5" stroke-width="1.5"/>
<path d="M555.1 211.7L598.9 194.9" stroke-dasharray="16 3 3 3 3 3" stroke-dashoffset="2.4" stroke-width="1.5"/>
<path d="M549.5 210.1L587.5 197.5" stroke-dasharray="16 3 3 3 3 3" stroke-dashoffset="11.6" stroke-width="1.5"/>
<path d="M554.9 193.4L664.5 157.1" stroke-dasharray="4 3" stroke-dashoffset="10.0" stroke-width="1.5"/>
<path d="M554.8 166.0L571.3 163.4" stroke-dasharray="8 6" stroke-dashoffset="5.5" stroke-width="1.5"/>
<path d="M549.5 189.4L586.9 178.3" stroke-dasharray="12 3 2.5 3 2.5 3" stroke-dashoffset="10.7" stroke-width="1.5"/>
<path d="M554.9 211.4L615.2 194.6" stroke-dashoffset="8.1" stroke-width="1.5"/>
<path d="M554.9 214.9L642.6 179.5" stroke-dasharray="7 4" stroke-dashoffset="7.5" stroke-width="1.5"/>
<path d="M549.5 246.8L587.4 228.7" stroke-dasharray="16 4" stroke-dashoffset="2.7" stroke-width="1.5"/>
<path d="M554.9 209.9L631.7 181.2" stroke-dasharray="7 4" stroke-dashoffset="5.0" stroke-width="1.5"/>
<path d="M555.1 162.2L587.7 155.7" stroke-dasharray="16 4" stroke-dashoffset="6.5" stroke-width="1.5"/>
<path d="M549.5 151.8L585.9 148.4" stroke-dasharray="8 6" stroke-dashoffset="5.6" stroke-width="1.5"/>
<path d="M554.9 157.3L582.3 151.1" stroke-dasharray="7 3 2 3" stroke-dashoffset="4.7" stroke-width="1.5"/>
<path d="M555.1 166.2L588.9 157.9" stroke-dasharray="7 3 2 3" stroke-dashoffset="9.3" stroke-width="1.5"/>
<path d="M554.9 178.1L589.9 171.2" stroke-dasharray="12 3 2.5 3 2.5 3" stroke-dashoffset="1.8" stroke-width="1.5"/>
<path d="M549.4 192.0L593.2 179.1" stroke-dasharray="7 3 2 3" stroke-dashoffset="6.7" stroke-width="1.5"/>
<path d="M554.8 153.0L593.1 147.4" stroke-dasharray="7 3 2 3" stroke-dashoffset="3.7" stroke-width="1.5"/>
<path d="M565.9 195.3L588.5 189.4" stroke-dasharray="7 4" stroke-dashoffset="5.0" stroke-width="1.5"/>
<path d="M560.5 185.5L593.4 176.8" stroke-dasharray="18 4 3 4" stroke-dashoffset="3.2" stroke-width="1.5"/>
<path d="M549.5 207.5L588.3 192.8" stroke-dasharray="8 6" stroke-dashoffset="10.2" stroke-width="1.5"/>
<path d="M577.0 246.6L588.6 240.9" stroke-dasharray="4 3" stroke-dashoffset="9.0" stroke-width="1.5"/>
<path d="M554.8 154.9L576.7 151.8" stroke-dasharray="8 6" stroke-dashoffset="1.3" stroke-width="1.5"/>
<path d="M549.5 191.5L565.9 187.3" stroke-dasharray="4 3" stroke-dashoffset="3.9" stroke-width="1.5"/>
<path d="M554.9 163.7L585.5 158.4" stroke-dasharray="12 3 2.5 3 2.5 3" stroke-dashoffset="1.0" stroke-width="1.5"/>
<path d="M554.9 189.7L585.9 181.0" stroke-dasharray="7 4" stroke-dashoffset="2.7" stroke-width="1.5"/>
<path d="M549.6 220.3L587.6 205.1" stroke-dasharray="7 4" stroke-dashoffset="5.7" stroke-width="1.5"/>
<path d="M554.9 147.0L576.8 144.3" stroke-dasharray="4 3" stroke-dashoffset="1.9" stroke-width="1.5"/>
<path d="M554.8 198.3L598.6 186.1" stroke-dasharray="8 6" stroke-dashoffset="7.6" stroke-width="1.5"/>
<path d="M555.0 190.5L598.9 178.2" stroke-dasharray="16 4" stroke-dashoffset="5.4" stroke-width="1.5"/>
<path d="M549.4 190.6L588.3 181.0" stroke-dasharray="5 5" stroke-dashoffset="10.0" stroke-width="1.5"/>
<path d="M555.0 215.4L735.8 158.1" stroke-dasharray="16 4" stroke-dashoffset="2.0" stroke-width="1.5"/>
<path d="M555.0 241.2L593.3 222.7" stroke-dasharray="7 3 2 3" stroke-dashoffset="10.1" stroke-width="1.5"/>
<path d="M555.0 204.5L586.8 192.9" stroke-dasharray="7 3 2 3" stroke-dashoffset="3.6" stroke-width="1.5"/>
<path d="M549.4 179.3L582.3 171.2" stroke-dasharray="18 4 3 4" stroke-dashoffset="10.4" stroke-width="1.5"/>
<path d="M549.5 235.6L702.9 171.3" stroke-dasharray="16 3 3 3 3 3" stroke-dashoffset="0.1" stroke-width="1.5"/>
<path d="M554.8 207.4L586.8 197.1" stroke-dasharray="5 5" stroke-dashoffset="8.5" stroke-width="1.5"/>
<path d="M549.6 192.6L582.5 182.3" stroke-dasharray="8 6" stroke-dashoffset="10.3" stroke-width="1.5"/>
<path d="M560.4 220.6L604.3 203.9" stroke-dasharray="7 4" stroke-dashoffset="0.5" stroke-width="1.5"/>
<path d="M560.3 155.5L598.7 150.0" stroke-dasharray="12 3 2.5 3 2.5 3" stroke-dashoffset="9.0" stroke-width="1.5"/>
<path d="M555.0 142.8L741.3 118.5" stroke-dasharray="12 3 2.5 3 2.5 3" stroke-dashoffset="11.7" stroke-width="1.5"/>
<path d="M549.6 212.5L631.8 182.9" stroke-dasharray="16 4" stroke-dashoffset="3.5" stroke-width="1.5"/>
<path d="M555.1 207.5L593.4 196.6" stroke-dasharray="12 3 2.5 3 2.5 3" stroke-dashoffset="5.5" stroke-width="1.5"/>
<path d="M560.4 194.5L576.8 190.3" stroke-dasharray="16 4" stroke-dashoffset="6.5" stroke-width="1.5"/>
<path d="M554.8 168.4L576.7 164.6" stroke-dasharray="7 3 2 3" stroke-dashoffset="0.8" stroke-width="1.5"/>
<path d="M549.4 190.9L582.3 181.0" stroke-dasharray="7 4" stroke-dashoffset="9.9" stroke-width="1.5"/>
<path d="M549.6 234.0L577.0 223.7" stroke-dasharray="7 3 2 3" stroke-dashoffset="10.1" stroke-width="1.5"/>
<path d="M560.3 172.1L588.3 164.8" stroke-dasharray="5 5" stroke-dashoffset="9.0" stroke-width="1.5"/>
<path d="M554.8 150.5L589.0 145.6" stroke-dasharray="4 3" stroke-dashoffset="4.8" stroke-width="1.5"/>
<path d="M582.2 114.1L615.1 114.7" stroke-dasharray="5 5" stroke-dashoffset="6.6" stroke-width="1.5"/>
<path d="M560.4 164.4L593.3 157.1" stroke-dasharray="8 6" stroke-dashoffset="1.8" stroke-width="1.5"/>
<path d="M554.8 205.7L565.8 202.8" stroke-dashoffset="9.4" stroke-width="1.5"/>
<path d="M591.0 43.8L630.5 52.8" stroke-dasharray="4 7.8"/>
<path d="M564.0 69.5L639.4 78.1" stroke-dasharray="4 8"/>
<path d="M549.3 82.1L585.5 89.4" stroke-dasharray="8 5"/>
<path d="M555.0 89.4L572.0 92.0" stroke-dasharray="16 4"/>
<path d="M553.3 93.7L580.0 95.9" stroke-dasharray="16 4"/>
<path d="M591.0 95.5L783.4 96.2" stroke-dasharray="10 11.2"/>
<path d="M549.3 97.0L712.0 101.3" stroke-dasharray="18 4 3 4"/>
<path d="M583.5 280.0L668.5 229.3" stroke-dasharray="5.5 5.7"/>
<path d="M553.0 275.4L586.9 258.3"/>
<path d="M567.0 274.9L588.0 262.9" stroke-dasharray="16 4"/>
<path d="M549.3 118.0L733.0 114.6" stroke-dasharray="14 3 5 3"/>
<path d="M552.0 160.0L783.4 119.4" stroke-dasharray="15 3.5"/>
<path d="M552.0 168.5L783.4 122.2" stroke-dasharray="12 3 2.5 3"/>
<path d="M552.0 202.8L783.4 135.6" stroke-dasharray="4.5 3.8"/>
<path d="M552.0 215.8L783.4 146.5" stroke-dasharray="12 3 2.5 3 2.5 3"/>
<path d="M575.0 260.8L731.5 180.8" stroke-dasharray="12 3 2.5 3 2.5 3"/>
<path d="M560.0 102.3L598.0 103.5" stroke-width="2"/>
<path d="M565.0 105.0L583.0 106.0"/>
<path d="M560.0 106.6L583.0 107.6" stroke-width="2"/>
<path d="M601.5 104.8L606.0 105.0"/>
<path d="M614.0 105.0L617.0 105.0"/>
<path d="M613.0 107.6L621.5 108.0"/>
<path d="M556.0 111.6L562.0 111.8"/>
<path d="M566.0 111.8L586.0 113.0" stroke-width="2"/>
<path d="M590.0 112.5L600.0 112.8"/>
<path d="M553.0 123.5L601.0 126.5" stroke-width="2"/>
</g>
<rect x="249.15" y="18.5" width="261.35" height="378.6" fill="none" stroke="#151515" stroke-width="1.3"/>
<rect x="521.7" y="18.5" width="261.70" height="378.6" fill="none" stroke="#151515" stroke-width="1.3"/>
<g stroke="#151515" stroke-width="1.4">
<line x1="242.3" y1="349.8" x2="249.15" y2="349.8"/>
<line x1="242.3" y1="291.1" x2="249.15" y2="291.1"/>
<line x1="242.3" y1="232.4" x2="249.15" y2="232.4"/>
<line x1="242.3" y1="173.6" x2="249.15" y2="173.6"/>
<line x1="242.3" y1="114.9" x2="249.15" y2="114.9"/>
<line x1="242.3" y1="56.2" x2="249.15" y2="56.2"/>
<line x1="251.0" y1="397.1" x2="251.0" y2="403.9"/>
<line x1="305.8" y1="397.1" x2="305.8" y2="403.9"/>
<line x1="360.6" y1="397.1" x2="360.6" y2="403.9"/>
<line x1="415.4" y1="397.1" x2="415.4" y2="403.9"/>
<line x1="470.2" y1="397.1" x2="470.2" y2="403.9"/>
<line x1="523.7" y1="397.1" x2="523.7" y2="403.9"/>
<line x1="578.5" y1="397.1" x2="578.5" y2="403.9"/>
<line x1="633.3" y1="397.1" x2="633.3" y2="403.9"/>
<line x1="688.1" y1="397.1" x2="688.1" y2="403.9"/>
<line x1="742.9" y1="397.1" x2="742.9" y2="403.9"/>
</g>
<g font-size="11px" text-anchor="end">
<text x="241.8" y="355.5">20.00</text>
<text x="241.8" y="296.8">30.00</text>
<text x="241.8" y="238.1">40.00</text>
<text x="241.8" y="179.3">50.00</text>
<text x="241.8" y="120.6">60.00</text>
<text x="241.8" y="61.9">70.00</text>
</g>
<g font-size="11px" text-anchor="middle">
<text x="250.7" y="415">-10.00</text>
<text x="305.5" y="415">.00</text>
<text x="360.3" y="415">10.00</text>
<text x="415.1" y="415">20.00</text>
<text x="469.9" y="415">30.00</text>
<text x="523.4" y="415">-10.00</text>
<text x="578.2" y="415">.00</text>
<text x="633.0" y="415">10.00</text>
<text x="687.8" y="415">20.00</text>
<text x="742.6" y="415">30.00</text>
</g>
<g font-size="12px" font-weight="bold" text-anchor="middle">
<text x="379.4" y="437.6"># visits since last assessment</text>
<text x="651.6" y="437.6"># visits since last assessment</text>
</g>
<text font-size="15px" font-weight="bold" text-anchor="middle" transform="translate(202.7 207.4) rotate(-90)">BLUP</text>
</svg></body></html>
